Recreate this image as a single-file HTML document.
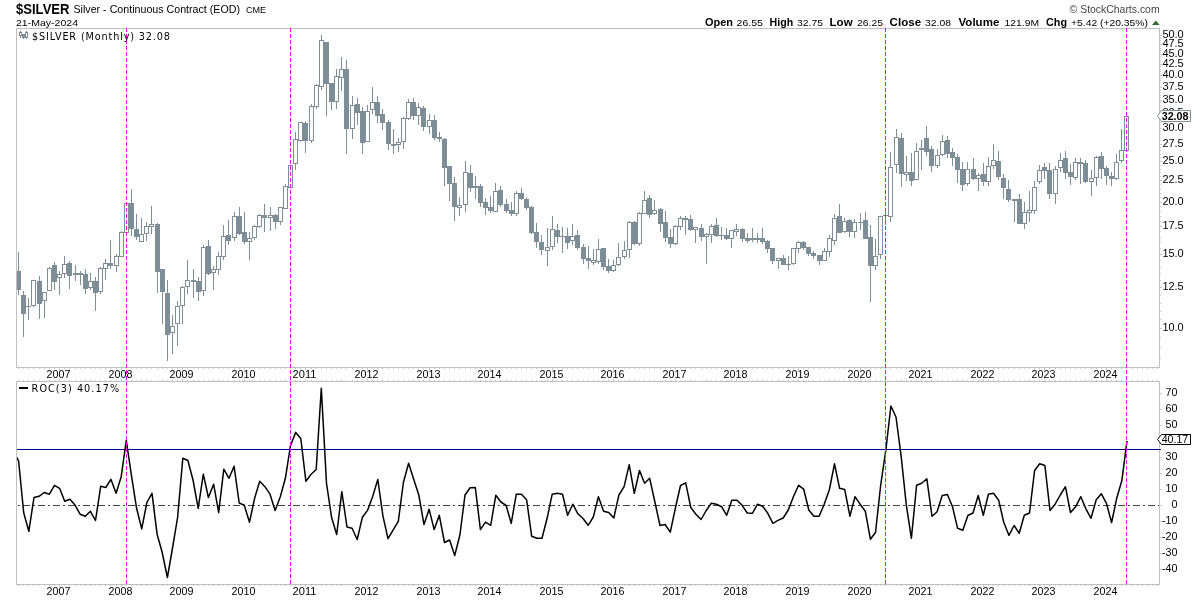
<!DOCTYPE html>
<html><head><meta charset="utf-8"><title>$SILVER Monthly</title>
<style>html,body{margin:0;padding:0;background:#fff}svg{display:block}</style>
</head><body>
<svg width="1200" height="600" viewBox="0 0 1200 600">
<rect width="1200" height="600" fill="#fff"/>
<g shape-rendering="crispEdges" fill="#c8c8c8">
<rect x="18" y="368" width="1" height="1"/>
<rect x="18" y="380" width="1" height="1"/>
<rect x="18" y="585" width="1" height="1"/>
<rect x="23" y="368" width="1" height="1"/>
<rect x="23" y="380" width="1" height="1"/>
<rect x="23" y="585" width="1" height="1"/>
<rect x="28" y="368" width="1" height="1"/>
<rect x="28" y="380" width="1" height="1"/>
<rect x="28" y="585" width="1" height="1"/>
<rect x="33" y="368" width="1" height="1"/>
<rect x="33" y="380" width="1" height="1"/>
<rect x="33" y="585" width="1" height="1"/>
<rect x="39" y="368" width="1" height="1"/>
<rect x="39" y="380" width="1" height="1"/>
<rect x="39" y="585" width="1" height="1"/>
<rect x="44" y="368" width="1" height="1"/>
<rect x="44" y="380" width="1" height="1"/>
<rect x="44" y="585" width="1" height="1"/>
<rect x="49" y="368" width="1" height="1"/>
<rect x="49" y="380" width="1" height="1"/>
<rect x="49" y="585" width="1" height="1"/>
<rect x="54" y="368" width="1" height="1"/>
<rect x="54" y="380" width="1" height="1"/>
<rect x="54" y="585" width="1" height="1"/>
<rect x="59" y="368" width="1" height="2"/>
<rect x="59" y="379" width="1" height="2"/>
<rect x="59" y="585" width="1" height="2"/>
<rect x="64" y="368" width="1" height="1"/>
<rect x="64" y="380" width="1" height="1"/>
<rect x="64" y="585" width="1" height="1"/>
<rect x="69" y="368" width="1" height="1"/>
<rect x="69" y="380" width="1" height="1"/>
<rect x="69" y="585" width="1" height="1"/>
<rect x="75" y="368" width="1" height="1"/>
<rect x="75" y="380" width="1" height="1"/>
<rect x="75" y="585" width="1" height="1"/>
<rect x="80" y="368" width="1" height="1"/>
<rect x="80" y="380" width="1" height="1"/>
<rect x="80" y="585" width="1" height="1"/>
<rect x="85" y="368" width="1" height="1"/>
<rect x="85" y="380" width="1" height="1"/>
<rect x="85" y="585" width="1" height="1"/>
<rect x="90" y="368" width="1" height="1"/>
<rect x="90" y="380" width="1" height="1"/>
<rect x="90" y="585" width="1" height="1"/>
<rect x="95" y="368" width="1" height="1"/>
<rect x="95" y="380" width="1" height="1"/>
<rect x="95" y="585" width="1" height="1"/>
<rect x="100" y="368" width="1" height="1"/>
<rect x="100" y="380" width="1" height="1"/>
<rect x="100" y="585" width="1" height="1"/>
<rect x="105" y="368" width="1" height="1"/>
<rect x="105" y="380" width="1" height="1"/>
<rect x="105" y="585" width="1" height="1"/>
<rect x="110" y="368" width="1" height="1"/>
<rect x="110" y="380" width="1" height="1"/>
<rect x="110" y="585" width="1" height="1"/>
<rect x="116" y="368" width="1" height="1"/>
<rect x="116" y="380" width="1" height="1"/>
<rect x="116" y="585" width="1" height="1"/>
<rect x="121" y="368" width="1" height="2"/>
<rect x="121" y="379" width="1" height="2"/>
<rect x="121" y="585" width="1" height="2"/>
<rect x="126" y="368" width="1" height="1"/>
<rect x="126" y="380" width="1" height="1"/>
<rect x="126" y="585" width="1" height="1"/>
<rect x="131" y="368" width="1" height="1"/>
<rect x="131" y="380" width="1" height="1"/>
<rect x="131" y="585" width="1" height="1"/>
<rect x="136" y="368" width="1" height="1"/>
<rect x="136" y="380" width="1" height="1"/>
<rect x="136" y="585" width="1" height="1"/>
<rect x="141" y="368" width="1" height="1"/>
<rect x="141" y="380" width="1" height="1"/>
<rect x="141" y="585" width="1" height="1"/>
<rect x="146" y="368" width="1" height="1"/>
<rect x="146" y="380" width="1" height="1"/>
<rect x="146" y="585" width="1" height="1"/>
<rect x="151" y="368" width="1" height="1"/>
<rect x="151" y="380" width="1" height="1"/>
<rect x="151" y="585" width="1" height="1"/>
<rect x="157" y="368" width="1" height="1"/>
<rect x="157" y="380" width="1" height="1"/>
<rect x="157" y="585" width="1" height="1"/>
<rect x="162" y="368" width="1" height="1"/>
<rect x="162" y="380" width="1" height="1"/>
<rect x="162" y="585" width="1" height="1"/>
<rect x="167" y="368" width="1" height="1"/>
<rect x="167" y="380" width="1" height="1"/>
<rect x="167" y="585" width="1" height="1"/>
<rect x="172" y="368" width="1" height="1"/>
<rect x="172" y="380" width="1" height="1"/>
<rect x="172" y="585" width="1" height="1"/>
<rect x="177" y="368" width="1" height="1"/>
<rect x="177" y="380" width="1" height="1"/>
<rect x="177" y="585" width="1" height="1"/>
<rect x="182" y="368" width="1" height="2"/>
<rect x="182" y="379" width="1" height="2"/>
<rect x="182" y="585" width="1" height="2"/>
<rect x="187" y="368" width="1" height="1"/>
<rect x="187" y="380" width="1" height="1"/>
<rect x="187" y="585" width="1" height="1"/>
<rect x="193" y="368" width="1" height="1"/>
<rect x="193" y="380" width="1" height="1"/>
<rect x="193" y="585" width="1" height="1"/>
<rect x="198" y="368" width="1" height="1"/>
<rect x="198" y="380" width="1" height="1"/>
<rect x="198" y="585" width="1" height="1"/>
<rect x="203" y="368" width="1" height="1"/>
<rect x="203" y="380" width="1" height="1"/>
<rect x="203" y="585" width="1" height="1"/>
<rect x="208" y="368" width="1" height="1"/>
<rect x="208" y="380" width="1" height="1"/>
<rect x="208" y="585" width="1" height="1"/>
<rect x="213" y="368" width="1" height="1"/>
<rect x="213" y="380" width="1" height="1"/>
<rect x="213" y="585" width="1" height="1"/>
<rect x="218" y="368" width="1" height="1"/>
<rect x="218" y="380" width="1" height="1"/>
<rect x="218" y="585" width="1" height="1"/>
<rect x="223" y="368" width="1" height="1"/>
<rect x="223" y="380" width="1" height="1"/>
<rect x="223" y="585" width="1" height="1"/>
<rect x="228" y="368" width="1" height="1"/>
<rect x="228" y="380" width="1" height="1"/>
<rect x="228" y="585" width="1" height="1"/>
<rect x="234" y="368" width="1" height="1"/>
<rect x="234" y="380" width="1" height="1"/>
<rect x="234" y="585" width="1" height="1"/>
<rect x="239" y="368" width="1" height="1"/>
<rect x="239" y="380" width="1" height="1"/>
<rect x="239" y="585" width="1" height="1"/>
<rect x="244" y="368" width="1" height="2"/>
<rect x="244" y="379" width="1" height="2"/>
<rect x="244" y="585" width="1" height="2"/>
<rect x="249" y="368" width="1" height="1"/>
<rect x="249" y="380" width="1" height="1"/>
<rect x="249" y="585" width="1" height="1"/>
<rect x="254" y="368" width="1" height="1"/>
<rect x="254" y="380" width="1" height="1"/>
<rect x="254" y="585" width="1" height="1"/>
<rect x="259" y="368" width="1" height="1"/>
<rect x="259" y="380" width="1" height="1"/>
<rect x="259" y="585" width="1" height="1"/>
<rect x="264" y="368" width="1" height="1"/>
<rect x="264" y="380" width="1" height="1"/>
<rect x="264" y="585" width="1" height="1"/>
<rect x="270" y="368" width="1" height="1"/>
<rect x="270" y="380" width="1" height="1"/>
<rect x="270" y="585" width="1" height="1"/>
<rect x="275" y="368" width="1" height="1"/>
<rect x="275" y="380" width="1" height="1"/>
<rect x="275" y="585" width="1" height="1"/>
<rect x="280" y="368" width="1" height="1"/>
<rect x="280" y="380" width="1" height="1"/>
<rect x="280" y="585" width="1" height="1"/>
<rect x="285" y="368" width="1" height="1"/>
<rect x="285" y="380" width="1" height="1"/>
<rect x="285" y="585" width="1" height="1"/>
<rect x="290" y="368" width="1" height="1"/>
<rect x="290" y="380" width="1" height="1"/>
<rect x="290" y="585" width="1" height="1"/>
<rect x="295" y="368" width="1" height="1"/>
<rect x="295" y="380" width="1" height="1"/>
<rect x="295" y="585" width="1" height="1"/>
<rect x="300" y="368" width="1" height="1"/>
<rect x="300" y="380" width="1" height="1"/>
<rect x="300" y="585" width="1" height="1"/>
<rect x="305" y="368" width="1" height="2"/>
<rect x="305" y="379" width="1" height="2"/>
<rect x="305" y="585" width="1" height="2"/>
<rect x="311" y="368" width="1" height="1"/>
<rect x="311" y="380" width="1" height="1"/>
<rect x="311" y="585" width="1" height="1"/>
<rect x="316" y="368" width="1" height="1"/>
<rect x="316" y="380" width="1" height="1"/>
<rect x="316" y="585" width="1" height="1"/>
<rect x="321" y="368" width="1" height="1"/>
<rect x="321" y="380" width="1" height="1"/>
<rect x="321" y="585" width="1" height="1"/>
<rect x="326" y="368" width="1" height="1"/>
<rect x="326" y="380" width="1" height="1"/>
<rect x="326" y="585" width="1" height="1"/>
<rect x="331" y="368" width="1" height="1"/>
<rect x="331" y="380" width="1" height="1"/>
<rect x="331" y="585" width="1" height="1"/>
<rect x="336" y="368" width="1" height="1"/>
<rect x="336" y="380" width="1" height="1"/>
<rect x="336" y="585" width="1" height="1"/>
<rect x="341" y="368" width="1" height="1"/>
<rect x="341" y="380" width="1" height="1"/>
<rect x="341" y="585" width="1" height="1"/>
<rect x="346" y="368" width="1" height="1"/>
<rect x="346" y="380" width="1" height="1"/>
<rect x="346" y="585" width="1" height="1"/>
<rect x="352" y="368" width="1" height="1"/>
<rect x="352" y="380" width="1" height="1"/>
<rect x="352" y="585" width="1" height="1"/>
<rect x="357" y="368" width="1" height="1"/>
<rect x="357" y="380" width="1" height="1"/>
<rect x="357" y="585" width="1" height="1"/>
<rect x="362" y="368" width="1" height="1"/>
<rect x="362" y="380" width="1" height="1"/>
<rect x="362" y="585" width="1" height="1"/>
<rect x="367" y="368" width="1" height="2"/>
<rect x="367" y="379" width="1" height="2"/>
<rect x="367" y="585" width="1" height="2"/>
<rect x="372" y="368" width="1" height="1"/>
<rect x="372" y="380" width="1" height="1"/>
<rect x="372" y="585" width="1" height="1"/>
<rect x="377" y="368" width="1" height="1"/>
<rect x="377" y="380" width="1" height="1"/>
<rect x="377" y="585" width="1" height="1"/>
<rect x="382" y="368" width="1" height="1"/>
<rect x="382" y="380" width="1" height="1"/>
<rect x="382" y="585" width="1" height="1"/>
<rect x="388" y="368" width="1" height="1"/>
<rect x="388" y="380" width="1" height="1"/>
<rect x="388" y="585" width="1" height="1"/>
<rect x="393" y="368" width="1" height="1"/>
<rect x="393" y="380" width="1" height="1"/>
<rect x="393" y="585" width="1" height="1"/>
<rect x="398" y="368" width="1" height="1"/>
<rect x="398" y="380" width="1" height="1"/>
<rect x="398" y="585" width="1" height="1"/>
<rect x="403" y="368" width="1" height="1"/>
<rect x="403" y="380" width="1" height="1"/>
<rect x="403" y="585" width="1" height="1"/>
<rect x="408" y="368" width="1" height="1"/>
<rect x="408" y="380" width="1" height="1"/>
<rect x="408" y="585" width="1" height="1"/>
<rect x="413" y="368" width="1" height="1"/>
<rect x="413" y="380" width="1" height="1"/>
<rect x="413" y="585" width="1" height="1"/>
<rect x="418" y="368" width="1" height="1"/>
<rect x="418" y="380" width="1" height="1"/>
<rect x="418" y="585" width="1" height="1"/>
<rect x="423" y="368" width="1" height="1"/>
<rect x="423" y="380" width="1" height="1"/>
<rect x="423" y="585" width="1" height="1"/>
<rect x="429" y="368" width="1" height="2"/>
<rect x="429" y="379" width="1" height="2"/>
<rect x="429" y="585" width="1" height="2"/>
<rect x="434" y="368" width="1" height="1"/>
<rect x="434" y="380" width="1" height="1"/>
<rect x="434" y="585" width="1" height="1"/>
<rect x="439" y="368" width="1" height="1"/>
<rect x="439" y="380" width="1" height="1"/>
<rect x="439" y="585" width="1" height="1"/>
<rect x="444" y="368" width="1" height="1"/>
<rect x="444" y="380" width="1" height="1"/>
<rect x="444" y="585" width="1" height="1"/>
<rect x="449" y="368" width="1" height="1"/>
<rect x="449" y="380" width="1" height="1"/>
<rect x="449" y="585" width="1" height="1"/>
<rect x="454" y="368" width="1" height="1"/>
<rect x="454" y="380" width="1" height="1"/>
<rect x="454" y="585" width="1" height="1"/>
<rect x="459" y="368" width="1" height="1"/>
<rect x="459" y="380" width="1" height="1"/>
<rect x="459" y="585" width="1" height="1"/>
<rect x="465" y="368" width="1" height="1"/>
<rect x="465" y="380" width="1" height="1"/>
<rect x="465" y="585" width="1" height="1"/>
<rect x="470" y="368" width="1" height="1"/>
<rect x="470" y="380" width="1" height="1"/>
<rect x="470" y="585" width="1" height="1"/>
<rect x="475" y="368" width="1" height="1"/>
<rect x="475" y="380" width="1" height="1"/>
<rect x="475" y="585" width="1" height="1"/>
<rect x="480" y="368" width="1" height="1"/>
<rect x="480" y="380" width="1" height="1"/>
<rect x="480" y="585" width="1" height="1"/>
<rect x="485" y="368" width="1" height="1"/>
<rect x="485" y="380" width="1" height="1"/>
<rect x="485" y="585" width="1" height="1"/>
<rect x="490" y="368" width="1" height="2"/>
<rect x="490" y="379" width="1" height="2"/>
<rect x="490" y="585" width="1" height="2"/>
<rect x="495" y="368" width="1" height="1"/>
<rect x="495" y="380" width="1" height="1"/>
<rect x="495" y="585" width="1" height="1"/>
<rect x="500" y="368" width="1" height="1"/>
<rect x="500" y="380" width="1" height="1"/>
<rect x="500" y="585" width="1" height="1"/>
<rect x="506" y="368" width="1" height="1"/>
<rect x="506" y="380" width="1" height="1"/>
<rect x="506" y="585" width="1" height="1"/>
<rect x="511" y="368" width="1" height="1"/>
<rect x="511" y="380" width="1" height="1"/>
<rect x="511" y="585" width="1" height="1"/>
<rect x="516" y="368" width="1" height="1"/>
<rect x="516" y="380" width="1" height="1"/>
<rect x="516" y="585" width="1" height="1"/>
<rect x="521" y="368" width="1" height="1"/>
<rect x="521" y="380" width="1" height="1"/>
<rect x="521" y="585" width="1" height="1"/>
<rect x="526" y="368" width="1" height="1"/>
<rect x="526" y="380" width="1" height="1"/>
<rect x="526" y="585" width="1" height="1"/>
<rect x="531" y="368" width="1" height="1"/>
<rect x="531" y="380" width="1" height="1"/>
<rect x="531" y="585" width="1" height="1"/>
<rect x="536" y="368" width="1" height="1"/>
<rect x="536" y="380" width="1" height="1"/>
<rect x="536" y="585" width="1" height="1"/>
<rect x="541" y="368" width="1" height="1"/>
<rect x="541" y="380" width="1" height="1"/>
<rect x="541" y="585" width="1" height="1"/>
<rect x="547" y="368" width="1" height="1"/>
<rect x="547" y="380" width="1" height="1"/>
<rect x="547" y="585" width="1" height="1"/>
<rect x="552" y="368" width="1" height="2"/>
<rect x="552" y="379" width="1" height="2"/>
<rect x="552" y="585" width="1" height="2"/>
<rect x="557" y="368" width="1" height="1"/>
<rect x="557" y="380" width="1" height="1"/>
<rect x="557" y="585" width="1" height="1"/>
<rect x="562" y="368" width="1" height="1"/>
<rect x="562" y="380" width="1" height="1"/>
<rect x="562" y="585" width="1" height="1"/>
<rect x="567" y="368" width="1" height="1"/>
<rect x="567" y="380" width="1" height="1"/>
<rect x="567" y="585" width="1" height="1"/>
<rect x="572" y="368" width="1" height="1"/>
<rect x="572" y="380" width="1" height="1"/>
<rect x="572" y="585" width="1" height="1"/>
<rect x="577" y="368" width="1" height="1"/>
<rect x="577" y="380" width="1" height="1"/>
<rect x="577" y="585" width="1" height="1"/>
<rect x="583" y="368" width="1" height="1"/>
<rect x="583" y="380" width="1" height="1"/>
<rect x="583" y="585" width="1" height="1"/>
<rect x="588" y="368" width="1" height="1"/>
<rect x="588" y="380" width="1" height="1"/>
<rect x="588" y="585" width="1" height="1"/>
<rect x="593" y="368" width="1" height="1"/>
<rect x="593" y="380" width="1" height="1"/>
<rect x="593" y="585" width="1" height="1"/>
<rect x="598" y="368" width="1" height="1"/>
<rect x="598" y="380" width="1" height="1"/>
<rect x="598" y="585" width="1" height="1"/>
<rect x="603" y="368" width="1" height="1"/>
<rect x="603" y="380" width="1" height="1"/>
<rect x="603" y="585" width="1" height="1"/>
<rect x="608" y="368" width="1" height="1"/>
<rect x="608" y="380" width="1" height="1"/>
<rect x="608" y="585" width="1" height="1"/>
<rect x="613" y="368" width="1" height="2"/>
<rect x="613" y="379" width="1" height="2"/>
<rect x="613" y="585" width="1" height="2"/>
<rect x="618" y="368" width="1" height="1"/>
<rect x="618" y="380" width="1" height="1"/>
<rect x="618" y="585" width="1" height="1"/>
<rect x="624" y="368" width="1" height="1"/>
<rect x="624" y="380" width="1" height="1"/>
<rect x="624" y="585" width="1" height="1"/>
<rect x="629" y="368" width="1" height="1"/>
<rect x="629" y="380" width="1" height="1"/>
<rect x="629" y="585" width="1" height="1"/>
<rect x="634" y="368" width="1" height="1"/>
<rect x="634" y="380" width="1" height="1"/>
<rect x="634" y="585" width="1" height="1"/>
<rect x="639" y="368" width="1" height="1"/>
<rect x="639" y="380" width="1" height="1"/>
<rect x="639" y="585" width="1" height="1"/>
<rect x="644" y="368" width="1" height="1"/>
<rect x="644" y="380" width="1" height="1"/>
<rect x="644" y="585" width="1" height="1"/>
<rect x="649" y="368" width="1" height="1"/>
<rect x="649" y="380" width="1" height="1"/>
<rect x="649" y="585" width="1" height="1"/>
<rect x="654" y="368" width="1" height="1"/>
<rect x="654" y="380" width="1" height="1"/>
<rect x="654" y="585" width="1" height="1"/>
<rect x="660" y="368" width="1" height="1"/>
<rect x="660" y="380" width="1" height="1"/>
<rect x="660" y="585" width="1" height="1"/>
<rect x="665" y="368" width="1" height="1"/>
<rect x="665" y="380" width="1" height="1"/>
<rect x="665" y="585" width="1" height="1"/>
<rect x="670" y="368" width="1" height="1"/>
<rect x="670" y="380" width="1" height="1"/>
<rect x="670" y="585" width="1" height="1"/>
<rect x="675" y="368" width="1" height="2"/>
<rect x="675" y="379" width="1" height="2"/>
<rect x="675" y="585" width="1" height="2"/>
<rect x="680" y="368" width="1" height="1"/>
<rect x="680" y="380" width="1" height="1"/>
<rect x="680" y="585" width="1" height="1"/>
<rect x="685" y="368" width="1" height="1"/>
<rect x="685" y="380" width="1" height="1"/>
<rect x="685" y="585" width="1" height="1"/>
<rect x="690" y="368" width="1" height="1"/>
<rect x="690" y="380" width="1" height="1"/>
<rect x="690" y="585" width="1" height="1"/>
<rect x="695" y="368" width="1" height="1"/>
<rect x="695" y="380" width="1" height="1"/>
<rect x="695" y="585" width="1" height="1"/>
<rect x="701" y="368" width="1" height="1"/>
<rect x="701" y="380" width="1" height="1"/>
<rect x="701" y="585" width="1" height="1"/>
<rect x="706" y="368" width="1" height="1"/>
<rect x="706" y="380" width="1" height="1"/>
<rect x="706" y="585" width="1" height="1"/>
<rect x="711" y="368" width="1" height="1"/>
<rect x="711" y="380" width="1" height="1"/>
<rect x="711" y="585" width="1" height="1"/>
<rect x="716" y="368" width="1" height="1"/>
<rect x="716" y="380" width="1" height="1"/>
<rect x="716" y="585" width="1" height="1"/>
<rect x="721" y="368" width="1" height="1"/>
<rect x="721" y="380" width="1" height="1"/>
<rect x="721" y="585" width="1" height="1"/>
<rect x="726" y="368" width="1" height="1"/>
<rect x="726" y="380" width="1" height="1"/>
<rect x="726" y="585" width="1" height="1"/>
<rect x="731" y="368" width="1" height="1"/>
<rect x="731" y="380" width="1" height="1"/>
<rect x="731" y="585" width="1" height="1"/>
<rect x="736" y="368" width="1" height="2"/>
<rect x="736" y="379" width="1" height="2"/>
<rect x="736" y="585" width="1" height="2"/>
<rect x="742" y="368" width="1" height="1"/>
<rect x="742" y="380" width="1" height="1"/>
<rect x="742" y="585" width="1" height="1"/>
<rect x="747" y="368" width="1" height="1"/>
<rect x="747" y="380" width="1" height="1"/>
<rect x="747" y="585" width="1" height="1"/>
<rect x="752" y="368" width="1" height="1"/>
<rect x="752" y="380" width="1" height="1"/>
<rect x="752" y="585" width="1" height="1"/>
<rect x="757" y="368" width="1" height="1"/>
<rect x="757" y="380" width="1" height="1"/>
<rect x="757" y="585" width="1" height="1"/>
<rect x="762" y="368" width="1" height="1"/>
<rect x="762" y="380" width="1" height="1"/>
<rect x="762" y="585" width="1" height="1"/>
<rect x="767" y="368" width="1" height="1"/>
<rect x="767" y="380" width="1" height="1"/>
<rect x="767" y="585" width="1" height="1"/>
<rect x="772" y="368" width="1" height="1"/>
<rect x="772" y="380" width="1" height="1"/>
<rect x="772" y="585" width="1" height="1"/>
<rect x="778" y="368" width="1" height="1"/>
<rect x="778" y="380" width="1" height="1"/>
<rect x="778" y="585" width="1" height="1"/>
<rect x="783" y="368" width="1" height="1"/>
<rect x="783" y="380" width="1" height="1"/>
<rect x="783" y="585" width="1" height="1"/>
<rect x="788" y="368" width="1" height="1"/>
<rect x="788" y="380" width="1" height="1"/>
<rect x="788" y="585" width="1" height="1"/>
<rect x="793" y="368" width="1" height="1"/>
<rect x="793" y="380" width="1" height="1"/>
<rect x="793" y="585" width="1" height="1"/>
<rect x="798" y="368" width="1" height="2"/>
<rect x="798" y="379" width="1" height="2"/>
<rect x="798" y="585" width="1" height="2"/>
<rect x="803" y="368" width="1" height="1"/>
<rect x="803" y="380" width="1" height="1"/>
<rect x="803" y="585" width="1" height="1"/>
<rect x="808" y="368" width="1" height="1"/>
<rect x="808" y="380" width="1" height="1"/>
<rect x="808" y="585" width="1" height="1"/>
<rect x="813" y="368" width="1" height="1"/>
<rect x="813" y="380" width="1" height="1"/>
<rect x="813" y="585" width="1" height="1"/>
<rect x="819" y="368" width="1" height="1"/>
<rect x="819" y="380" width="1" height="1"/>
<rect x="819" y="585" width="1" height="1"/>
<rect x="824" y="368" width="1" height="1"/>
<rect x="824" y="380" width="1" height="1"/>
<rect x="824" y="585" width="1" height="1"/>
<rect x="829" y="368" width="1" height="1"/>
<rect x="829" y="380" width="1" height="1"/>
<rect x="829" y="585" width="1" height="1"/>
<rect x="834" y="368" width="1" height="1"/>
<rect x="834" y="380" width="1" height="1"/>
<rect x="834" y="585" width="1" height="1"/>
<rect x="839" y="368" width="1" height="1"/>
<rect x="839" y="380" width="1" height="1"/>
<rect x="839" y="585" width="1" height="1"/>
<rect x="844" y="368" width="1" height="1"/>
<rect x="844" y="380" width="1" height="1"/>
<rect x="844" y="585" width="1" height="1"/>
<rect x="849" y="368" width="1" height="1"/>
<rect x="849" y="380" width="1" height="1"/>
<rect x="849" y="585" width="1" height="1"/>
<rect x="854" y="368" width="1" height="1"/>
<rect x="854" y="380" width="1" height="1"/>
<rect x="854" y="585" width="1" height="1"/>
<rect x="860" y="368" width="1" height="2"/>
<rect x="860" y="379" width="1" height="2"/>
<rect x="860" y="585" width="1" height="2"/>
<rect x="865" y="368" width="1" height="1"/>
<rect x="865" y="380" width="1" height="1"/>
<rect x="865" y="585" width="1" height="1"/>
<rect x="870" y="368" width="1" height="1"/>
<rect x="870" y="380" width="1" height="1"/>
<rect x="870" y="585" width="1" height="1"/>
<rect x="875" y="368" width="1" height="1"/>
<rect x="875" y="380" width="1" height="1"/>
<rect x="875" y="585" width="1" height="1"/>
<rect x="880" y="368" width="1" height="1"/>
<rect x="880" y="380" width="1" height="1"/>
<rect x="880" y="585" width="1" height="1"/>
<rect x="885" y="368" width="1" height="1"/>
<rect x="885" y="380" width="1" height="1"/>
<rect x="885" y="585" width="1" height="1"/>
<rect x="890" y="368" width="1" height="1"/>
<rect x="890" y="380" width="1" height="1"/>
<rect x="890" y="585" width="1" height="1"/>
<rect x="896" y="368" width="1" height="1"/>
<rect x="896" y="380" width="1" height="1"/>
<rect x="896" y="585" width="1" height="1"/>
<rect x="901" y="368" width="1" height="1"/>
<rect x="901" y="380" width="1" height="1"/>
<rect x="901" y="585" width="1" height="1"/>
<rect x="906" y="368" width="1" height="1"/>
<rect x="906" y="380" width="1" height="1"/>
<rect x="906" y="585" width="1" height="1"/>
<rect x="911" y="368" width="1" height="1"/>
<rect x="911" y="380" width="1" height="1"/>
<rect x="911" y="585" width="1" height="1"/>
<rect x="916" y="368" width="1" height="1"/>
<rect x="916" y="380" width="1" height="1"/>
<rect x="916" y="585" width="1" height="1"/>
<rect x="921" y="368" width="1" height="2"/>
<rect x="921" y="379" width="1" height="2"/>
<rect x="921" y="585" width="1" height="2"/>
<rect x="926" y="368" width="1" height="1"/>
<rect x="926" y="380" width="1" height="1"/>
<rect x="926" y="585" width="1" height="1"/>
<rect x="931" y="368" width="1" height="1"/>
<rect x="931" y="380" width="1" height="1"/>
<rect x="931" y="585" width="1" height="1"/>
<rect x="937" y="368" width="1" height="1"/>
<rect x="937" y="380" width="1" height="1"/>
<rect x="937" y="585" width="1" height="1"/>
<rect x="942" y="368" width="1" height="1"/>
<rect x="942" y="380" width="1" height="1"/>
<rect x="942" y="585" width="1" height="1"/>
<rect x="947" y="368" width="1" height="1"/>
<rect x="947" y="380" width="1" height="1"/>
<rect x="947" y="585" width="1" height="1"/>
<rect x="952" y="368" width="1" height="1"/>
<rect x="952" y="380" width="1" height="1"/>
<rect x="952" y="585" width="1" height="1"/>
<rect x="957" y="368" width="1" height="1"/>
<rect x="957" y="380" width="1" height="1"/>
<rect x="957" y="585" width="1" height="1"/>
<rect x="962" y="368" width="1" height="1"/>
<rect x="962" y="380" width="1" height="1"/>
<rect x="962" y="585" width="1" height="1"/>
<rect x="967" y="368" width="1" height="1"/>
<rect x="967" y="380" width="1" height="1"/>
<rect x="967" y="585" width="1" height="1"/>
<rect x="973" y="368" width="1" height="1"/>
<rect x="973" y="380" width="1" height="1"/>
<rect x="973" y="585" width="1" height="1"/>
<rect x="978" y="368" width="1" height="1"/>
<rect x="978" y="380" width="1" height="1"/>
<rect x="978" y="585" width="1" height="1"/>
<rect x="983" y="368" width="1" height="2"/>
<rect x="983" y="379" width="1" height="2"/>
<rect x="983" y="585" width="1" height="2"/>
<rect x="988" y="368" width="1" height="1"/>
<rect x="988" y="380" width="1" height="1"/>
<rect x="988" y="585" width="1" height="1"/>
<rect x="993" y="368" width="1" height="1"/>
<rect x="993" y="380" width="1" height="1"/>
<rect x="993" y="585" width="1" height="1"/>
<rect x="998" y="368" width="1" height="1"/>
<rect x="998" y="380" width="1" height="1"/>
<rect x="998" y="585" width="1" height="1"/>
<rect x="1003" y="368" width="1" height="1"/>
<rect x="1003" y="380" width="1" height="1"/>
<rect x="1003" y="585" width="1" height="1"/>
<rect x="1008" y="368" width="1" height="1"/>
<rect x="1008" y="380" width="1" height="1"/>
<rect x="1008" y="585" width="1" height="1"/>
<rect x="1014" y="368" width="1" height="1"/>
<rect x="1014" y="380" width="1" height="1"/>
<rect x="1014" y="585" width="1" height="1"/>
<rect x="1019" y="368" width="1" height="1"/>
<rect x="1019" y="380" width="1" height="1"/>
<rect x="1019" y="585" width="1" height="1"/>
<rect x="1024" y="368" width="1" height="1"/>
<rect x="1024" y="380" width="1" height="1"/>
<rect x="1024" y="585" width="1" height="1"/>
<rect x="1029" y="368" width="1" height="1"/>
<rect x="1029" y="380" width="1" height="1"/>
<rect x="1029" y="585" width="1" height="1"/>
<rect x="1034" y="368" width="1" height="1"/>
<rect x="1034" y="380" width="1" height="1"/>
<rect x="1034" y="585" width="1" height="1"/>
<rect x="1039" y="368" width="1" height="1"/>
<rect x="1039" y="380" width="1" height="1"/>
<rect x="1039" y="585" width="1" height="1"/>
<rect x="1044" y="368" width="1" height="2"/>
<rect x="1044" y="379" width="1" height="2"/>
<rect x="1044" y="585" width="1" height="2"/>
<rect x="1049" y="368" width="1" height="1"/>
<rect x="1049" y="380" width="1" height="1"/>
<rect x="1049" y="585" width="1" height="1"/>
<rect x="1055" y="368" width="1" height="1"/>
<rect x="1055" y="380" width="1" height="1"/>
<rect x="1055" y="585" width="1" height="1"/>
<rect x="1060" y="368" width="1" height="1"/>
<rect x="1060" y="380" width="1" height="1"/>
<rect x="1060" y="585" width="1" height="1"/>
<rect x="1065" y="368" width="1" height="1"/>
<rect x="1065" y="380" width="1" height="1"/>
<rect x="1065" y="585" width="1" height="1"/>
<rect x="1070" y="368" width="1" height="1"/>
<rect x="1070" y="380" width="1" height="1"/>
<rect x="1070" y="585" width="1" height="1"/>
<rect x="1075" y="368" width="1" height="1"/>
<rect x="1075" y="380" width="1" height="1"/>
<rect x="1075" y="585" width="1" height="1"/>
<rect x="1080" y="368" width="1" height="1"/>
<rect x="1080" y="380" width="1" height="1"/>
<rect x="1080" y="585" width="1" height="1"/>
<rect x="1085" y="368" width="1" height="1"/>
<rect x="1085" y="380" width="1" height="1"/>
<rect x="1085" y="585" width="1" height="1"/>
<rect x="1091" y="368" width="1" height="1"/>
<rect x="1091" y="380" width="1" height="1"/>
<rect x="1091" y="585" width="1" height="1"/>
<rect x="1096" y="368" width="1" height="1"/>
<rect x="1096" y="380" width="1" height="1"/>
<rect x="1096" y="585" width="1" height="1"/>
<rect x="1101" y="368" width="1" height="1"/>
<rect x="1101" y="380" width="1" height="1"/>
<rect x="1101" y="585" width="1" height="1"/>
<rect x="1106" y="368" width="1" height="2"/>
<rect x="1106" y="379" width="1" height="2"/>
<rect x="1106" y="585" width="1" height="2"/>
<rect x="1111" y="368" width="1" height="1"/>
<rect x="1111" y="380" width="1" height="1"/>
<rect x="1111" y="585" width="1" height="1"/>
<rect x="1116" y="368" width="1" height="1"/>
<rect x="1116" y="380" width="1" height="1"/>
<rect x="1116" y="585" width="1" height="1"/>
<rect x="1121" y="368" width="1" height="1"/>
<rect x="1121" y="380" width="1" height="1"/>
<rect x="1121" y="585" width="1" height="1"/>
<rect x="1126" y="368" width="1" height="1"/>
<rect x="1126" y="380" width="1" height="1"/>
<rect x="1126" y="585" width="1" height="1"/>
<rect x="1132" y="368" width="1" height="1"/>
<rect x="1132" y="380" width="1" height="1"/>
<rect x="1132" y="585" width="1" height="1"/>
<rect x="1137" y="368" width="1" height="1"/>
<rect x="1137" y="380" width="1" height="1"/>
<rect x="1137" y="585" width="1" height="1"/>
<rect x="1142" y="368" width="1" height="1"/>
<rect x="1142" y="380" width="1" height="1"/>
<rect x="1142" y="585" width="1" height="1"/>
<rect x="1147" y="368" width="1" height="1"/>
<rect x="1147" y="380" width="1" height="1"/>
<rect x="1147" y="585" width="1" height="1"/>
<rect x="1152" y="368" width="1" height="1"/>
<rect x="1152" y="380" width="1" height="1"/>
<rect x="1152" y="585" width="1" height="1"/>
<rect x="1157" y="368" width="1" height="1"/>
<rect x="1157" y="380" width="1" height="1"/>
<rect x="1157" y="585" width="1" height="1"/>
</g>
<g shape-rendering="crispEdges" fill="#c8c8c8">
<rect x="1160" y="358" width="1" height="1"/>
<rect x="1160" y="347" width="1" height="1"/>
<rect x="1160" y="337" width="1" height="1"/>
<rect x="1160" y="328" width="2" height="1"/>
<rect x="1160" y="319" width="1" height="1"/>
<rect x="1160" y="311" width="1" height="1"/>
<rect x="1160" y="303" width="1" height="1"/>
<rect x="1160" y="295" width="1" height="1"/>
<rect x="1160" y="287" width="2" height="1"/>
<rect x="1160" y="280" width="1" height="1"/>
<rect x="1160" y="273" width="1" height="1"/>
<rect x="1160" y="267" width="1" height="1"/>
<rect x="1160" y="260" width="1" height="1"/>
<rect x="1160" y="254" width="2" height="1"/>
<rect x="1160" y="248" width="1" height="1"/>
<rect x="1160" y="242" width="1" height="1"/>
<rect x="1160" y="237" width="1" height="1"/>
<rect x="1160" y="231" width="1" height="1"/>
<rect x="1160" y="226" width="2" height="1"/>
<rect x="1160" y="221" width="1" height="1"/>
<rect x="1160" y="216" width="1" height="1"/>
<rect x="1160" y="211" width="1" height="1"/>
<rect x="1160" y="206" width="1" height="1"/>
<rect x="1160" y="202" width="2" height="1"/>
<rect x="1160" y="197" width="1" height="1"/>
<rect x="1160" y="193" width="1" height="1"/>
<rect x="1160" y="189" width="1" height="1"/>
<rect x="1160" y="184" width="1" height="1"/>
<rect x="1160" y="180" width="2" height="1"/>
<rect x="1160" y="176" width="1" height="1"/>
<rect x="1160" y="172" width="1" height="1"/>
<rect x="1160" y="169" width="1" height="1"/>
<rect x="1160" y="165" width="1" height="1"/>
<rect x="1160" y="161" width="2" height="1"/>
<rect x="1160" y="157" width="1" height="1"/>
<rect x="1160" y="154" width="1" height="1"/>
<rect x="1160" y="150" width="1" height="1"/>
<rect x="1160" y="147" width="1" height="1"/>
<rect x="1160" y="144" width="2" height="1"/>
<rect x="1160" y="140" width="1" height="1"/>
<rect x="1160" y="137" width="1" height="1"/>
<rect x="1160" y="134" width="1" height="1"/>
<rect x="1160" y="131" width="1" height="1"/>
<rect x="1160" y="128" width="2" height="1"/>
<rect x="1160" y="125" width="1" height="1"/>
<rect x="1160" y="122" width="1" height="1"/>
<rect x="1160" y="119" width="1" height="1"/>
<rect x="1160" y="116" width="1" height="1"/>
<rect x="1160" y="113" width="2" height="1"/>
<rect x="1160" y="110" width="1" height="1"/>
<rect x="1160" y="108" width="1" height="1"/>
<rect x="1160" y="105" width="1" height="1"/>
<rect x="1160" y="102" width="1" height="1"/>
<rect x="1160" y="100" width="2" height="1"/>
<rect x="1160" y="97" width="1" height="1"/>
<rect x="1160" y="95" width="1" height="1"/>
<rect x="1160" y="92" width="1" height="1"/>
<rect x="1160" y="90" width="1" height="1"/>
<rect x="1160" y="87" width="2" height="1"/>
<rect x="1160" y="85" width="1" height="1"/>
<rect x="1160" y="82" width="1" height="1"/>
<rect x="1160" y="80" width="1" height="1"/>
<rect x="1160" y="78" width="1" height="1"/>
<rect x="1160" y="75" width="2" height="1"/>
<rect x="1160" y="73" width="1" height="1"/>
<rect x="1160" y="71" width="1" height="1"/>
<rect x="1160" y="69" width="1" height="1"/>
<rect x="1160" y="66" width="1" height="1"/>
<rect x="1160" y="64" width="2" height="1"/>
<rect x="1160" y="62" width="1" height="1"/>
<rect x="1160" y="60" width="1" height="1"/>
<rect x="1160" y="58" width="1" height="1"/>
<rect x="1160" y="56" width="1" height="1"/>
<rect x="1160" y="54" width="2" height="1"/>
<rect x="1160" y="52" width="1" height="1"/>
<rect x="1160" y="50" width="1" height="1"/>
<rect x="1160" y="48" width="1" height="1"/>
<rect x="1160" y="46" width="1" height="1"/>
<rect x="1160" y="44" width="2" height="1"/>
<rect x="1160" y="42" width="1" height="1"/>
<rect x="1160" y="40" width="1" height="1"/>
<rect x="1160" y="38" width="1" height="1"/>
<rect x="1160" y="37" width="1" height="1"/>
<rect x="1160" y="35" width="2" height="1"/>
<rect x="1160" y="569" width="2" height="1"/>
<rect x="1160" y="553" width="2" height="1"/>
<rect x="1160" y="537" width="2" height="1"/>
<rect x="1160" y="521" width="2" height="1"/>
<rect x="1160" y="505" width="2" height="1"/>
<rect x="1160" y="489" width="2" height="1"/>
<rect x="1160" y="473" width="2" height="1"/>
<rect x="1160" y="457" width="2" height="1"/>
<rect x="1160" y="441" width="2" height="1"/>
<rect x="1160" y="425" width="2" height="1"/>
<rect x="1160" y="409" width="2" height="1"/>
<rect x="1160" y="393" width="2" height="1"/>
</g>
<g shape-rendering="crispEdges">
<rect x="18" y="252" width="1" height="43" fill="#7d8e97"/>
<rect x="16" y="271" width="5" height="19" fill="#7d8e97"/>
<rect x="23" y="291" width="1" height="46" fill="#7d8e97"/>
<rect x="21" y="295" width="5" height="19" fill="#7d8e97"/>
<rect x="28" y="298" width="1" height="22" fill="#7d8e97"/>
<rect x="26" y="306" width="5" height="1" fill="#7d8e97"/>
<rect x="33" y="280" width="1" height="27" fill="#7d8e97"/>
<rect x="31" y="280" width="5" height="26" fill="#7d8e97"/>
<rect x="32" y="281" width="3" height="24" fill="#fff"/>
<rect x="39" y="276" width="1" height="43" fill="#7d8e97"/>
<rect x="37" y="281" width="5" height="23" fill="#7d8e97"/>
<rect x="44" y="292" width="1" height="26" fill="#7d8e97"/>
<rect x="42" y="292" width="5" height="9" fill="#7d8e97"/>
<rect x="43" y="293" width="3" height="7" fill="#fff"/>
<rect x="49" y="267" width="1" height="24" fill="#7d8e97"/>
<rect x="47" y="268" width="5" height="23" fill="#7d8e97"/>
<rect x="48" y="269" width="3" height="21" fill="#fff"/>
<rect x="54" y="262" width="1" height="28" fill="#7d8e97"/>
<rect x="52" y="265" width="5" height="17" fill="#7d8e97"/>
<rect x="59" y="271" width="1" height="24" fill="#7d8e97"/>
<rect x="57" y="274" width="5" height="4" fill="#7d8e97"/>
<rect x="58" y="275" width="3" height="2" fill="#fff"/>
<rect x="64" y="256" width="1" height="22" fill="#7d8e97"/>
<rect x="62" y="264" width="5" height="10" fill="#7d8e97"/>
<rect x="63" y="265" width="3" height="8" fill="#fff"/>
<rect x="69" y="261" width="1" height="28" fill="#7d8e97"/>
<rect x="67" y="263" width="5" height="13" fill="#7d8e97"/>
<rect x="75" y="265" width="1" height="16" fill="#7d8e97"/>
<rect x="73" y="273" width="5" height="2" fill="#7d8e97"/>
<rect x="80" y="271" width="1" height="14" fill="#7d8e97"/>
<rect x="78" y="273" width="5" height="2" fill="#7d8e97"/>
<rect x="85" y="269" width="1" height="25" fill="#7d8e97"/>
<rect x="83" y="274" width="5" height="15" fill="#7d8e97"/>
<rect x="90" y="273" width="1" height="17" fill="#7d8e97"/>
<rect x="88" y="281" width="5" height="7" fill="#7d8e97"/>
<rect x="89" y="282" width="3" height="5" fill="#fff"/>
<rect x="95" y="277" width="1" height="34" fill="#7d8e97"/>
<rect x="93" y="281" width="5" height="12" fill="#7d8e97"/>
<rect x="100" y="267" width="1" height="27" fill="#7d8e97"/>
<rect x="98" y="268" width="5" height="24" fill="#7d8e97"/>
<rect x="99" y="269" width="3" height="22" fill="#fff"/>
<rect x="105" y="259" width="1" height="21" fill="#7d8e97"/>
<rect x="103" y="263" width="5" height="6" fill="#7d8e97"/>
<rect x="104" y="264" width="3" height="4" fill="#fff"/>
<rect x="110" y="240" width="1" height="29" fill="#7d8e97"/>
<rect x="108" y="263" width="5" height="3" fill="#7d8e97"/>
<rect x="116" y="254" width="1" height="18" fill="#7d8e97"/>
<rect x="114" y="256" width="5" height="10" fill="#7d8e97"/>
<rect x="115" y="257" width="3" height="8" fill="#fff"/>
<rect x="121" y="231" width="1" height="25" fill="#7d8e97"/>
<rect x="119" y="232" width="5" height="25" fill="#7d8e97"/>
<rect x="120" y="233" width="3" height="23" fill="#fff"/>
<rect x="126" y="203" width="1" height="29" fill="#7d8e97"/>
<rect x="124" y="203" width="5" height="30" fill="#7d8e97"/>
<rect x="125" y="204" width="3" height="28" fill="#fff"/>
<rect x="131" y="189" width="1" height="47" fill="#7d8e97"/>
<rect x="129" y="203" width="5" height="26" fill="#7d8e97"/>
<rect x="136" y="214" width="1" height="26" fill="#7d8e97"/>
<rect x="134" y="229" width="5" height="8" fill="#7d8e97"/>
<rect x="141" y="218" width="1" height="24" fill="#7d8e97"/>
<rect x="139" y="234" width="5" height="8" fill="#7d8e97"/>
<rect x="140" y="235" width="3" height="6" fill="#fff"/>
<rect x="146" y="222" width="1" height="19" fill="#7d8e97"/>
<rect x="144" y="226" width="5" height="8" fill="#7d8e97"/>
<rect x="145" y="227" width="3" height="6" fill="#fff"/>
<rect x="151" y="206" width="1" height="28" fill="#7d8e97"/>
<rect x="149" y="224" width="5" height="3" fill="#7d8e97"/>
<rect x="150" y="225" width="3" height="1" fill="#fff"/>
<rect x="157" y="223" width="1" height="70" fill="#7d8e97"/>
<rect x="155" y="224" width="5" height="48" fill="#7d8e97"/>
<rect x="162" y="269" width="1" height="55" fill="#7d8e97"/>
<rect x="160" y="269" width="5" height="23" fill="#7d8e97"/>
<rect x="167" y="280" width="1" height="81" fill="#7d8e97"/>
<rect x="165" y="293" width="5" height="42" fill="#7d8e97"/>
<rect x="172" y="315" width="1" height="39" fill="#7d8e97"/>
<rect x="170" y="326" width="5" height="7" fill="#7d8e97"/>
<rect x="171" y="327" width="3" height="5" fill="#fff"/>
<rect x="177" y="301" width="1" height="45" fill="#7d8e97"/>
<rect x="175" y="306" width="5" height="18" fill="#7d8e97"/>
<rect x="176" y="307" width="3" height="16" fill="#fff"/>
<rect x="182" y="286" width="1" height="38" fill="#7d8e97"/>
<rect x="180" y="287" width="5" height="19" fill="#7d8e97"/>
<rect x="181" y="288" width="3" height="17" fill="#fff"/>
<rect x="187" y="260" width="1" height="34" fill="#7d8e97"/>
<rect x="185" y="280" width="5" height="7" fill="#7d8e97"/>
<rect x="186" y="281" width="3" height="5" fill="#fff"/>
<rect x="193" y="269" width="1" height="29" fill="#7d8e97"/>
<rect x="191" y="280" width="5" height="2" fill="#7d8e97"/>
<rect x="198" y="277" width="1" height="24" fill="#7d8e97"/>
<rect x="196" y="281" width="5" height="11" fill="#7d8e97"/>
<rect x="203" y="245" width="1" height="51" fill="#7d8e97"/>
<rect x="201" y="247" width="5" height="44" fill="#7d8e97"/>
<rect x="202" y="248" width="3" height="42" fill="#fff"/>
<rect x="208" y="240" width="1" height="35" fill="#7d8e97"/>
<rect x="206" y="246" width="5" height="28" fill="#7d8e97"/>
<rect x="213" y="266" width="1" height="24" fill="#7d8e97"/>
<rect x="211" y="269" width="5" height="4" fill="#7d8e97"/>
<rect x="212" y="270" width="3" height="2" fill="#fff"/>
<rect x="218" y="252" width="1" height="23" fill="#7d8e97"/>
<rect x="216" y="256" width="5" height="14" fill="#7d8e97"/>
<rect x="217" y="257" width="3" height="12" fill="#fff"/>
<rect x="223" y="225" width="1" height="35" fill="#7d8e97"/>
<rect x="221" y="236" width="5" height="21" fill="#7d8e97"/>
<rect x="222" y="237" width="3" height="19" fill="#fff"/>
<rect x="228" y="220" width="1" height="25" fill="#7d8e97"/>
<rect x="226" y="235" width="5" height="6" fill="#7d8e97"/>
<rect x="234" y="212" width="1" height="29" fill="#7d8e97"/>
<rect x="232" y="216" width="5" height="22" fill="#7d8e97"/>
<rect x="233" y="217" width="3" height="20" fill="#fff"/>
<rect x="239" y="207" width="1" height="28" fill="#7d8e97"/>
<rect x="237" y="216" width="5" height="18" fill="#7d8e97"/>
<rect x="244" y="212" width="1" height="32" fill="#7d8e97"/>
<rect x="242" y="232" width="5" height="10" fill="#7d8e97"/>
<rect x="249" y="232" width="1" height="28" fill="#7d8e97"/>
<rect x="247" y="238" width="5" height="4" fill="#7d8e97"/>
<rect x="248" y="239" width="3" height="2" fill="#fff"/>
<rect x="254" y="225" width="1" height="15" fill="#7d8e97"/>
<rect x="252" y="226" width="5" height="12" fill="#7d8e97"/>
<rect x="253" y="227" width="3" height="10" fill="#fff"/>
<rect x="259" y="214" width="1" height="14" fill="#7d8e97"/>
<rect x="257" y="215" width="5" height="12" fill="#7d8e97"/>
<rect x="258" y="216" width="3" height="10" fill="#fff"/>
<rect x="264" y="204" width="1" height="28" fill="#7d8e97"/>
<rect x="262" y="215" width="5" height="3" fill="#7d8e97"/>
<rect x="270" y="207" width="1" height="24" fill="#7d8e97"/>
<rect x="268" y="215" width="5" height="3" fill="#7d8e97"/>
<rect x="269" y="216" width="3" height="1" fill="#fff"/>
<rect x="275" y="214" width="1" height="15" fill="#7d8e97"/>
<rect x="273" y="215" width="5" height="7" fill="#7d8e97"/>
<rect x="280" y="207" width="1" height="18" fill="#7d8e97"/>
<rect x="278" y="207" width="5" height="15" fill="#7d8e97"/>
<rect x="279" y="208" width="3" height="13" fill="#fff"/>
<rect x="285" y="184" width="1" height="25" fill="#7d8e97"/>
<rect x="283" y="186" width="5" height="23" fill="#7d8e97"/>
<rect x="284" y="187" width="3" height="21" fill="#fff"/>
<rect x="290" y="165" width="1" height="23" fill="#7d8e97"/>
<rect x="288" y="165" width="5" height="23" fill="#7d8e97"/>
<rect x="289" y="166" width="3" height="21" fill="#fff"/>
<rect x="295" y="132" width="1" height="38" fill="#7d8e97"/>
<rect x="293" y="139" width="5" height="25" fill="#7d8e97"/>
<rect x="294" y="140" width="3" height="23" fill="#fff"/>
<rect x="300" y="122" width="1" height="20" fill="#7d8e97"/>
<rect x="298" y="122" width="5" height="19" fill="#7d8e97"/>
<rect x="299" y="123" width="3" height="17" fill="#fff"/>
<rect x="305" y="121" width="1" height="32" fill="#7d8e97"/>
<rect x="303" y="123" width="5" height="18" fill="#7d8e97"/>
<rect x="311" y="104" width="1" height="39" fill="#7d8e97"/>
<rect x="309" y="106" width="5" height="35" fill="#7d8e97"/>
<rect x="310" y="107" width="3" height="33" fill="#fff"/>
<rect x="316" y="84" width="1" height="25" fill="#7d8e97"/>
<rect x="314" y="85" width="5" height="22" fill="#7d8e97"/>
<rect x="315" y="86" width="3" height="20" fill="#fff"/>
<rect x="321" y="35" width="1" height="55" fill="#7d8e97"/>
<rect x="319" y="40" width="5" height="47" fill="#7d8e97"/>
<rect x="320" y="41" width="3" height="45" fill="#fff"/>
<rect x="326" y="42" width="1" height="74" fill="#7d8e97"/>
<rect x="324" y="42" width="5" height="42" fill="#7d8e97"/>
<rect x="331" y="83" width="1" height="27" fill="#7d8e97"/>
<rect x="329" y="83" width="5" height="19" fill="#7d8e97"/>
<rect x="336" y="69" width="1" height="40" fill="#7d8e97"/>
<rect x="334" y="76" width="5" height="26" fill="#7d8e97"/>
<rect x="335" y="77" width="3" height="24" fill="#fff"/>
<rect x="341" y="57" width="1" height="34" fill="#7d8e97"/>
<rect x="339" y="69" width="5" height="9" fill="#7d8e97"/>
<rect x="340" y="70" width="3" height="7" fill="#fff"/>
<rect x="346" y="60" width="1" height="94" fill="#7d8e97"/>
<rect x="344" y="69" width="5" height="60" fill="#7d8e97"/>
<rect x="352" y="96" width="1" height="43" fill="#7d8e97"/>
<rect x="350" y="105" width="5" height="24" fill="#7d8e97"/>
<rect x="351" y="106" width="3" height="22" fill="#fff"/>
<rect x="357" y="98" width="1" height="27" fill="#7d8e97"/>
<rect x="355" y="104" width="5" height="9" fill="#7d8e97"/>
<rect x="362" y="107" width="1" height="47" fill="#7d8e97"/>
<rect x="360" y="111" width="5" height="32" fill="#7d8e97"/>
<rect x="367" y="105" width="1" height="37" fill="#7d8e97"/>
<rect x="365" y="111" width="5" height="31" fill="#7d8e97"/>
<rect x="366" y="112" width="3" height="29" fill="#fff"/>
<rect x="372" y="87" width="1" height="27" fill="#7d8e97"/>
<rect x="370" y="102" width="5" height="8" fill="#7d8e97"/>
<rect x="371" y="103" width="3" height="6" fill="#fff"/>
<rect x="377" y="96" width="1" height="27" fill="#7d8e97"/>
<rect x="375" y="102" width="5" height="14" fill="#7d8e97"/>
<rect x="382" y="109" width="1" height="21" fill="#7d8e97"/>
<rect x="380" y="114" width="5" height="9" fill="#7d8e97"/>
<rect x="388" y="120" width="1" height="30" fill="#7d8e97"/>
<rect x="386" y="122" width="5" height="22" fill="#7d8e97"/>
<rect x="393" y="129" width="1" height="25" fill="#7d8e97"/>
<rect x="391" y="144" width="5" height="2" fill="#7d8e97"/>
<rect x="398" y="138" width="1" height="14" fill="#7d8e97"/>
<rect x="396" y="142" width="5" height="3" fill="#7d8e97"/>
<rect x="397" y="143" width="3" height="1" fill="#fff"/>
<rect x="403" y="117" width="1" height="32" fill="#7d8e97"/>
<rect x="401" y="118" width="5" height="24" fill="#7d8e97"/>
<rect x="402" y="119" width="3" height="22" fill="#fff"/>
<rect x="408" y="99" width="1" height="21" fill="#7d8e97"/>
<rect x="406" y="102" width="5" height="17" fill="#7d8e97"/>
<rect x="407" y="103" width="3" height="15" fill="#fff"/>
<rect x="413" y="98" width="1" height="22" fill="#7d8e97"/>
<rect x="411" y="102" width="5" height="14" fill="#7d8e97"/>
<rect x="418" y="103" width="1" height="22" fill="#7d8e97"/>
<rect x="416" y="107" width="5" height="9" fill="#7d8e97"/>
<rect x="417" y="108" width="3" height="7" fill="#fff"/>
<rect x="423" y="106" width="1" height="25" fill="#7d8e97"/>
<rect x="421" y="108" width="5" height="19" fill="#7d8e97"/>
<rect x="429" y="114" width="1" height="20" fill="#7d8e97"/>
<rect x="427" y="120" width="5" height="7" fill="#7d8e97"/>
<rect x="428" y="121" width="3" height="5" fill="#fff"/>
<rect x="434" y="115" width="1" height="25" fill="#7d8e97"/>
<rect x="432" y="120" width="5" height="18" fill="#7d8e97"/>
<rect x="439" y="132" width="1" height="10" fill="#7d8e97"/>
<rect x="437" y="137" width="5" height="2" fill="#7d8e97"/>
<rect x="444" y="138" width="1" height="48" fill="#7d8e97"/>
<rect x="442" y="139" width="5" height="29" fill="#7d8e97"/>
<rect x="449" y="166" width="1" height="35" fill="#7d8e97"/>
<rect x="447" y="166" width="5" height="18" fill="#7d8e97"/>
<rect x="454" y="177" width="1" height="44" fill="#7d8e97"/>
<rect x="452" y="183" width="5" height="24" fill="#7d8e97"/>
<rect x="459" y="197" width="1" height="19" fill="#7d8e97"/>
<rect x="457" y="205" width="5" height="3" fill="#7d8e97"/>
<rect x="458" y="206" width="3" height="1" fill="#fff"/>
<rect x="465" y="161" width="1" height="51" fill="#7d8e97"/>
<rect x="463" y="172" width="5" height="33" fill="#7d8e97"/>
<rect x="464" y="173" width="3" height="31" fill="#fff"/>
<rect x="470" y="165" width="1" height="27" fill="#7d8e97"/>
<rect x="468" y="173" width="5" height="15" fill="#7d8e97"/>
<rect x="475" y="176" width="1" height="23" fill="#7d8e97"/>
<rect x="473" y="186" width="5" height="2" fill="#7d8e97"/>
<rect x="480" y="184" width="1" height="23" fill="#7d8e97"/>
<rect x="478" y="186" width="5" height="17" fill="#7d8e97"/>
<rect x="485" y="198" width="1" height="17" fill="#7d8e97"/>
<rect x="483" y="202" width="5" height="6" fill="#7d8e97"/>
<rect x="490" y="196" width="1" height="17" fill="#7d8e97"/>
<rect x="488" y="207" width="5" height="4" fill="#7d8e97"/>
<rect x="495" y="183" width="1" height="29" fill="#7d8e97"/>
<rect x="493" y="191" width="5" height="21" fill="#7d8e97"/>
<rect x="494" y="192" width="3" height="19" fill="#fff"/>
<rect x="500" y="186" width="1" height="21" fill="#7d8e97"/>
<rect x="498" y="190" width="5" height="15" fill="#7d8e97"/>
<rect x="506" y="199" width="1" height="14" fill="#7d8e97"/>
<rect x="504" y="204" width="5" height="7" fill="#7d8e97"/>
<rect x="511" y="202" width="1" height="14" fill="#7d8e97"/>
<rect x="509" y="210" width="5" height="4" fill="#7d8e97"/>
<rect x="516" y="191" width="1" height="25" fill="#7d8e97"/>
<rect x="514" y="193" width="5" height="21" fill="#7d8e97"/>
<rect x="515" y="194" width="3" height="19" fill="#fff"/>
<rect x="521" y="188" width="1" height="12" fill="#7d8e97"/>
<rect x="519" y="193" width="5" height="6" fill="#7d8e97"/>
<rect x="526" y="197" width="1" height="13" fill="#7d8e97"/>
<rect x="524" y="199" width="5" height="9" fill="#7d8e97"/>
<rect x="531" y="206" width="1" height="28" fill="#7d8e97"/>
<rect x="529" y="207" width="5" height="26" fill="#7d8e97"/>
<rect x="536" y="223" width="1" height="25" fill="#7d8e97"/>
<rect x="534" y="232" width="5" height="10" fill="#7d8e97"/>
<rect x="541" y="235" width="1" height="20" fill="#7d8e97"/>
<rect x="539" y="242" width="5" height="8" fill="#7d8e97"/>
<rect x="547" y="228" width="1" height="38" fill="#7d8e97"/>
<rect x="545" y="247" width="5" height="4" fill="#7d8e97"/>
<rect x="546" y="248" width="3" height="2" fill="#fff"/>
<rect x="552" y="216" width="1" height="34" fill="#7d8e97"/>
<rect x="550" y="229" width="5" height="18" fill="#7d8e97"/>
<rect x="551" y="230" width="3" height="16" fill="#fff"/>
<rect x="557" y="224" width="1" height="19" fill="#7d8e97"/>
<rect x="555" y="230" width="5" height="7" fill="#7d8e97"/>
<rect x="562" y="227" width="1" height="26" fill="#7d8e97"/>
<rect x="560" y="236" width="5" height="1" fill="#7d8e97"/>
<rect x="567" y="228" width="1" height="21" fill="#7d8e97"/>
<rect x="565" y="236" width="5" height="7" fill="#7d8e97"/>
<rect x="572" y="224" width="1" height="21" fill="#7d8e97"/>
<rect x="570" y="236" width="5" height="5" fill="#7d8e97"/>
<rect x="571" y="237" width="3" height="3" fill="#fff"/>
<rect x="577" y="230" width="1" height="20" fill="#7d8e97"/>
<rect x="575" y="235" width="5" height="13" fill="#7d8e97"/>
<rect x="583" y="244" width="1" height="20" fill="#7d8e97"/>
<rect x="581" y="247" width="5" height="12" fill="#7d8e97"/>
<rect x="588" y="246" width="1" height="23" fill="#7d8e97"/>
<rect x="586" y="258" width="5" height="3" fill="#7d8e97"/>
<rect x="593" y="249" width="1" height="16" fill="#7d8e97"/>
<rect x="591" y="260" width="5" height="3" fill="#7d8e97"/>
<rect x="592" y="261" width="3" height="1" fill="#fff"/>
<rect x="598" y="239" width="1" height="25" fill="#7d8e97"/>
<rect x="596" y="249" width="5" height="13" fill="#7d8e97"/>
<rect x="597" y="250" width="3" height="11" fill="#fff"/>
<rect x="603" y="248" width="1" height="22" fill="#7d8e97"/>
<rect x="601" y="248" width="5" height="19" fill="#7d8e97"/>
<rect x="608" y="259" width="1" height="14" fill="#7d8e97"/>
<rect x="606" y="266" width="5" height="5" fill="#7d8e97"/>
<rect x="613" y="260" width="1" height="12" fill="#7d8e97"/>
<rect x="611" y="265" width="5" height="6" fill="#7d8e97"/>
<rect x="612" y="266" width="3" height="4" fill="#fff"/>
<rect x="618" y="243" width="1" height="23" fill="#7d8e97"/>
<rect x="616" y="257" width="5" height="8" fill="#7d8e97"/>
<rect x="617" y="258" width="3" height="6" fill="#fff"/>
<rect x="624" y="241" width="1" height="18" fill="#7d8e97"/>
<rect x="622" y="250" width="5" height="7" fill="#7d8e97"/>
<rect x="623" y="251" width="3" height="5" fill="#fff"/>
<rect x="629" y="221" width="1" height="37" fill="#7d8e97"/>
<rect x="627" y="222" width="5" height="28" fill="#7d8e97"/>
<rect x="628" y="223" width="3" height="26" fill="#fff"/>
<rect x="634" y="221" width="1" height="24" fill="#7d8e97"/>
<rect x="632" y="222" width="5" height="22" fill="#7d8e97"/>
<rect x="639" y="212" width="1" height="34" fill="#7d8e97"/>
<rect x="637" y="213" width="5" height="31" fill="#7d8e97"/>
<rect x="638" y="214" width="3" height="29" fill="#fff"/>
<rect x="644" y="191" width="1" height="22" fill="#7d8e97"/>
<rect x="642" y="200" width="5" height="14" fill="#7d8e97"/>
<rect x="643" y="201" width="3" height="12" fill="#fff"/>
<rect x="649" y="195" width="1" height="23" fill="#7d8e97"/>
<rect x="647" y="198" width="5" height="17" fill="#7d8e97"/>
<rect x="654" y="200" width="1" height="15" fill="#7d8e97"/>
<rect x="652" y="210" width="5" height="4" fill="#7d8e97"/>
<rect x="653" y="211" width="3" height="2" fill="#fff"/>
<rect x="660" y="208" width="1" height="24" fill="#7d8e97"/>
<rect x="658" y="209" width="5" height="15" fill="#7d8e97"/>
<rect x="665" y="211" width="1" height="31" fill="#7d8e97"/>
<rect x="663" y="222" width="5" height="16" fill="#7d8e97"/>
<rect x="670" y="229" width="1" height="19" fill="#7d8e97"/>
<rect x="668" y="237" width="5" height="7" fill="#7d8e97"/>
<rect x="675" y="225" width="1" height="20" fill="#7d8e97"/>
<rect x="673" y="226" width="5" height="18" fill="#7d8e97"/>
<rect x="674" y="227" width="3" height="16" fill="#fff"/>
<rect x="680" y="216" width="1" height="14" fill="#7d8e97"/>
<rect x="678" y="218" width="5" height="9" fill="#7d8e97"/>
<rect x="679" y="219" width="3" height="7" fill="#fff"/>
<rect x="685" y="216" width="1" height="19" fill="#7d8e97"/>
<rect x="683" y="218" width="5" height="2" fill="#7d8e97"/>
<rect x="690" y="215" width="1" height="16" fill="#7d8e97"/>
<rect x="688" y="219" width="5" height="11" fill="#7d8e97"/>
<rect x="695" y="228" width="1" height="15" fill="#7d8e97"/>
<rect x="693" y="227" width="5" height="3" fill="#7d8e97"/>
<rect x="694" y="228" width="3" height="1" fill="#fff"/>
<rect x="701" y="224" width="1" height="17" fill="#7d8e97"/>
<rect x="699" y="228" width="5" height="9" fill="#7d8e97"/>
<rect x="706" y="233" width="1" height="31" fill="#7d8e97"/>
<rect x="704" y="234" width="5" height="3" fill="#7d8e97"/>
<rect x="705" y="235" width="3" height="1" fill="#fff"/>
<rect x="711" y="224" width="1" height="19" fill="#7d8e97"/>
<rect x="709" y="226" width="5" height="9" fill="#7d8e97"/>
<rect x="710" y="227" width="3" height="7" fill="#fff"/>
<rect x="716" y="218" width="1" height="19" fill="#7d8e97"/>
<rect x="714" y="225" width="5" height="11" fill="#7d8e97"/>
<rect x="721" y="227" width="1" height="13" fill="#7d8e97"/>
<rect x="719" y="235" width="5" height="1" fill="#7d8e97"/>
<rect x="726" y="228" width="1" height="12" fill="#7d8e97"/>
<rect x="724" y="235" width="5" height="4" fill="#7d8e97"/>
<rect x="731" y="230" width="1" height="18" fill="#7d8e97"/>
<rect x="729" y="230" width="5" height="9" fill="#7d8e97"/>
<rect x="730" y="231" width="3" height="7" fill="#fff"/>
<rect x="736" y="224" width="1" height="12" fill="#7d8e97"/>
<rect x="734" y="229" width="5" height="3" fill="#7d8e97"/>
<rect x="735" y="230" width="3" height="1" fill="#fff"/>
<rect x="742" y="228" width="1" height="14" fill="#7d8e97"/>
<rect x="740" y="229" width="5" height="10" fill="#7d8e97"/>
<rect x="747" y="233" width="1" height="10" fill="#7d8e97"/>
<rect x="745" y="238" width="5" height="3" fill="#7d8e97"/>
<rect x="752" y="228" width="1" height="14" fill="#7d8e97"/>
<rect x="750" y="238" width="5" height="2" fill="#7d8e97"/>
<rect x="757" y="233" width="1" height="10" fill="#7d8e97"/>
<rect x="755" y="238" width="5" height="2" fill="#7d8e97"/>
<rect x="762" y="228" width="1" height="16" fill="#7d8e97"/>
<rect x="760" y="238" width="5" height="4" fill="#7d8e97"/>
<rect x="767" y="240" width="1" height="13" fill="#7d8e97"/>
<rect x="765" y="241" width="5" height="8" fill="#7d8e97"/>
<rect x="772" y="248" width="1" height="16" fill="#7d8e97"/>
<rect x="770" y="248" width="5" height="13" fill="#7d8e97"/>
<rect x="778" y="259" width="1" height="10" fill="#7d8e97"/>
<rect x="776" y="258" width="5" height="3" fill="#7d8e97"/>
<rect x="777" y="259" width="3" height="1" fill="#fff"/>
<rect x="783" y="255" width="1" height="10" fill="#7d8e97"/>
<rect x="781" y="258" width="5" height="7" fill="#7d8e97"/>
<rect x="788" y="256" width="1" height="14" fill="#7d8e97"/>
<rect x="786" y="264" width="5" height="1" fill="#7d8e97"/>
<rect x="793" y="248" width="1" height="17" fill="#7d8e97"/>
<rect x="791" y="248" width="5" height="16" fill="#7d8e97"/>
<rect x="792" y="249" width="3" height="14" fill="#fff"/>
<rect x="798" y="241" width="1" height="12" fill="#7d8e97"/>
<rect x="796" y="242" width="5" height="7" fill="#7d8e97"/>
<rect x="797" y="243" width="3" height="5" fill="#fff"/>
<rect x="803" y="241" width="1" height="9" fill="#7d8e97"/>
<rect x="801" y="242" width="5" height="6" fill="#7d8e97"/>
<rect x="808" y="247" width="1" height="9" fill="#7d8e97"/>
<rect x="806" y="247" width="5" height="7" fill="#7d8e97"/>
<rect x="813" y="251" width="1" height="8" fill="#7d8e97"/>
<rect x="811" y="253" width="5" height="3" fill="#7d8e97"/>
<rect x="819" y="255" width="1" height="10" fill="#7d8e97"/>
<rect x="817" y="255" width="5" height="6" fill="#7d8e97"/>
<rect x="824" y="248" width="1" height="12" fill="#7d8e97"/>
<rect x="822" y="251" width="5" height="10" fill="#7d8e97"/>
<rect x="823" y="252" width="3" height="8" fill="#fff"/>
<rect x="829" y="235" width="1" height="22" fill="#7d8e97"/>
<rect x="827" y="238" width="5" height="14" fill="#7d8e97"/>
<rect x="828" y="239" width="3" height="12" fill="#fff"/>
<rect x="834" y="214" width="1" height="31" fill="#7d8e97"/>
<rect x="832" y="218" width="5" height="23" fill="#7d8e97"/>
<rect x="833" y="219" width="3" height="21" fill="#fff"/>
<rect x="839" y="204" width="1" height="28" fill="#7d8e97"/>
<rect x="837" y="216" width="5" height="17" fill="#7d8e97"/>
<rect x="844" y="218" width="1" height="15" fill="#7d8e97"/>
<rect x="842" y="221" width="5" height="11" fill="#7d8e97"/>
<rect x="843" y="222" width="3" height="9" fill="#fff"/>
<rect x="849" y="219" width="1" height="18" fill="#7d8e97"/>
<rect x="847" y="220" width="5" height="12" fill="#7d8e97"/>
<rect x="854" y="219" width="1" height="19" fill="#7d8e97"/>
<rect x="852" y="222" width="5" height="10" fill="#7d8e97"/>
<rect x="853" y="223" width="3" height="8" fill="#fff"/>
<rect x="860" y="213" width="1" height="17" fill="#7d8e97"/>
<rect x="858" y="222" width="5" height="1" fill="#7d8e97"/>
<rect x="865" y="212" width="1" height="26" fill="#7d8e97"/>
<rect x="863" y="220" width="5" height="19" fill="#7d8e97"/>
<rect x="870" y="225" width="1" height="77" fill="#7d8e97"/>
<rect x="868" y="237" width="5" height="29" fill="#7d8e97"/>
<rect x="875" y="239" width="1" height="31" fill="#7d8e97"/>
<rect x="873" y="256" width="5" height="10" fill="#7d8e97"/>
<rect x="874" y="257" width="3" height="8" fill="#fff"/>
<rect x="880" y="216" width="1" height="43" fill="#7d8e97"/>
<rect x="878" y="216" width="5" height="39" fill="#7d8e97"/>
<rect x="879" y="217" width="3" height="37" fill="#fff"/>
<rect x="885" y="212" width="1" height="13" fill="#7d8e97"/>
<rect x="883" y="215" width="5" height="1" fill="#7d8e97"/>
<rect x="890" y="152" width="1" height="70" fill="#7d8e97"/>
<rect x="888" y="167" width="5" height="50" fill="#7d8e97"/>
<rect x="889" y="168" width="3" height="48" fill="#fff"/>
<rect x="896" y="129" width="1" height="44" fill="#7d8e97"/>
<rect x="894" y="137" width="5" height="28" fill="#7d8e97"/>
<rect x="895" y="138" width="3" height="26" fill="#fff"/>
<rect x="901" y="133" width="1" height="54" fill="#7d8e97"/>
<rect x="899" y="138" width="5" height="36" fill="#7d8e97"/>
<rect x="906" y="156" width="1" height="25" fill="#7d8e97"/>
<rect x="904" y="172" width="5" height="3" fill="#7d8e97"/>
<rect x="905" y="173" width="3" height="1" fill="#fff"/>
<rect x="911" y="153" width="1" height="33" fill="#7d8e97"/>
<rect x="909" y="172" width="5" height="9" fill="#7d8e97"/>
<rect x="916" y="143" width="1" height="36" fill="#7d8e97"/>
<rect x="914" y="151" width="5" height="29" fill="#7d8e97"/>
<rect x="915" y="152" width="3" height="27" fill="#fff"/>
<rect x="921" y="140" width="1" height="30" fill="#7d8e97"/>
<rect x="919" y="148" width="5" height="2" fill="#7d8e97"/>
<rect x="926" y="126" width="1" height="30" fill="#7d8e97"/>
<rect x="924" y="138" width="5" height="14" fill="#7d8e97"/>
<rect x="931" y="146" width="1" height="26" fill="#7d8e97"/>
<rect x="929" y="149" width="5" height="17" fill="#7d8e97"/>
<rect x="937" y="149" width="1" height="19" fill="#7d8e97"/>
<rect x="935" y="155" width="5" height="11" fill="#7d8e97"/>
<rect x="936" y="156" width="3" height="9" fill="#fff"/>
<rect x="942" y="135" width="1" height="21" fill="#7d8e97"/>
<rect x="940" y="141" width="5" height="14" fill="#7d8e97"/>
<rect x="941" y="142" width="3" height="12" fill="#fff"/>
<rect x="947" y="136" width="1" height="22" fill="#7d8e97"/>
<rect x="945" y="140" width="5" height="14" fill="#7d8e97"/>
<rect x="952" y="148" width="1" height="18" fill="#7d8e97"/>
<rect x="950" y="152" width="5" height="6" fill="#7d8e97"/>
<rect x="957" y="154" width="1" height="29" fill="#7d8e97"/>
<rect x="955" y="157" width="5" height="13" fill="#7d8e97"/>
<rect x="962" y="162" width="1" height="29" fill="#7d8e97"/>
<rect x="960" y="169" width="5" height="16" fill="#7d8e97"/>
<rect x="967" y="162" width="1" height="24" fill="#7d8e97"/>
<rect x="965" y="169" width="5" height="15" fill="#7d8e97"/>
<rect x="966" y="170" width="3" height="13" fill="#fff"/>
<rect x="973" y="158" width="1" height="22" fill="#7d8e97"/>
<rect x="971" y="169" width="5" height="10" fill="#7d8e97"/>
<rect x="978" y="173" width="1" height="18" fill="#7d8e97"/>
<rect x="976" y="175" width="5" height="4" fill="#7d8e97"/>
<rect x="977" y="176" width="3" height="2" fill="#fff"/>
<rect x="983" y="163" width="1" height="23" fill="#7d8e97"/>
<rect x="981" y="174" width="5" height="8" fill="#7d8e97"/>
<rect x="988" y="157" width="1" height="29" fill="#7d8e97"/>
<rect x="986" y="166" width="5" height="16" fill="#7d8e97"/>
<rect x="987" y="167" width="3" height="14" fill="#fff"/>
<rect x="993" y="144" width="1" height="25" fill="#7d8e97"/>
<rect x="991" y="160" width="5" height="6" fill="#7d8e97"/>
<rect x="992" y="161" width="3" height="4" fill="#fff"/>
<rect x="998" y="151" width="1" height="29" fill="#7d8e97"/>
<rect x="996" y="161" width="5" height="16" fill="#7d8e97"/>
<rect x="1003" y="174" width="1" height="25" fill="#7d8e97"/>
<rect x="1001" y="178" width="5" height="10" fill="#7d8e97"/>
<rect x="1008" y="180" width="1" height="22" fill="#7d8e97"/>
<rect x="1006" y="189" width="5" height="11" fill="#7d8e97"/>
<rect x="1014" y="199" width="1" height="23" fill="#7d8e97"/>
<rect x="1012" y="199" width="5" height="2" fill="#7d8e97"/>
<rect x="1019" y="194" width="1" height="30" fill="#7d8e97"/>
<rect x="1017" y="199" width="5" height="25" fill="#7d8e97"/>
<rect x="1024" y="202" width="1" height="27" fill="#7d8e97"/>
<rect x="1022" y="212" width="5" height="12" fill="#7d8e97"/>
<rect x="1023" y="213" width="3" height="10" fill="#fff"/>
<rect x="1029" y="191" width="1" height="31" fill="#7d8e97"/>
<rect x="1027" y="210" width="5" height="3" fill="#7d8e97"/>
<rect x="1028" y="211" width="3" height="1" fill="#fff"/>
<rect x="1034" y="181" width="1" height="33" fill="#7d8e97"/>
<rect x="1032" y="187" width="5" height="24" fill="#7d8e97"/>
<rect x="1033" y="188" width="3" height="22" fill="#fff"/>
<rect x="1039" y="165" width="1" height="19" fill="#7d8e97"/>
<rect x="1037" y="170" width="5" height="12" fill="#7d8e97"/>
<rect x="1038" y="171" width="3" height="10" fill="#fff"/>
<rect x="1044" y="163" width="1" height="16" fill="#7d8e97"/>
<rect x="1042" y="167" width="5" height="4" fill="#7d8e97"/>
<rect x="1049" y="163" width="1" height="36" fill="#7d8e97"/>
<rect x="1047" y="170" width="5" height="24" fill="#7d8e97"/>
<rect x="1055" y="166" width="1" height="38" fill="#7d8e97"/>
<rect x="1053" y="169" width="5" height="25" fill="#7d8e97"/>
<rect x="1054" y="170" width="3" height="23" fill="#fff"/>
<rect x="1060" y="153" width="1" height="19" fill="#7d8e97"/>
<rect x="1058" y="160" width="5" height="8" fill="#7d8e97"/>
<rect x="1059" y="161" width="3" height="6" fill="#fff"/>
<rect x="1065" y="151" width="1" height="28" fill="#7d8e97"/>
<rect x="1063" y="158" width="5" height="15" fill="#7d8e97"/>
<rect x="1070" y="164" width="1" height="21" fill="#7d8e97"/>
<rect x="1068" y="172" width="5" height="5" fill="#7d8e97"/>
<rect x="1075" y="158" width="1" height="22" fill="#7d8e97"/>
<rect x="1073" y="162" width="5" height="16" fill="#7d8e97"/>
<rect x="1074" y="163" width="3" height="14" fill="#fff"/>
<rect x="1080" y="158" width="1" height="26" fill="#7d8e97"/>
<rect x="1078" y="162" width="5" height="2" fill="#7d8e97"/>
<rect x="1085" y="160" width="1" height="23" fill="#7d8e97"/>
<rect x="1083" y="163" width="5" height="19" fill="#7d8e97"/>
<rect x="1091" y="170" width="1" height="26" fill="#7d8e97"/>
<rect x="1089" y="178" width="5" height="4" fill="#7d8e97"/>
<rect x="1090" y="179" width="3" height="2" fill="#fff"/>
<rect x="1096" y="156" width="1" height="30" fill="#7d8e97"/>
<rect x="1094" y="157" width="5" height="21" fill="#7d8e97"/>
<rect x="1095" y="158" width="3" height="19" fill="#fff"/>
<rect x="1101" y="152" width="1" height="27" fill="#7d8e97"/>
<rect x="1099" y="156" width="5" height="13" fill="#7d8e97"/>
<rect x="1106" y="166" width="1" height="19" fill="#7d8e97"/>
<rect x="1104" y="168" width="5" height="8" fill="#7d8e97"/>
<rect x="1111" y="172" width="1" height="14" fill="#7d8e97"/>
<rect x="1109" y="176" width="5" height="3" fill="#7d8e97"/>
<rect x="1116" y="154" width="1" height="26" fill="#7d8e97"/>
<rect x="1114" y="162" width="5" height="17" fill="#7d8e97"/>
<rect x="1115" y="163" width="3" height="15" fill="#fff"/>
<rect x="1121" y="129" width="1" height="34" fill="#7d8e97"/>
<rect x="1119" y="150" width="5" height="11" fill="#7d8e97"/>
<rect x="1120" y="151" width="3" height="9" fill="#fff"/>
<rect x="1126" y="112" width="1" height="40" fill="#7d8e97"/>
<rect x="1124" y="116" width="5" height="35" fill="#7d8e97"/>
<rect x="1125" y="117" width="3" height="33" fill="#fff"/>
</g>
<g shape-rendering="crispEdges" fill="none" stroke="#c0c0c0" stroke-width="1">
<rect x="16.5" y="28.5" width="1143" height="339"/>
<rect x="16.5" y="381.5" width="1143" height="203"/>
</g>
<g shape-rendering="crispEdges">
<rect x="17" y="449" width="1144" height="1" fill="#000090"/>
</g>
<line x1="18" y1="505.5" x2="1159" y2="505.5" stroke="#444" stroke-width="1" stroke-dasharray="2 3 7 3" shape-rendering="crispEdges"/>
<clipPath id="c2"><rect x="17" y="382" width="1142" height="202"/></clipPath>
<polyline clip-path="url(#c2)" points="13.4,452.0 18.6,460.8 23.7,512.8 28.8,531.3 34.0,497.5 39.1,496.3 44.2,492.5 49.4,494.2 54.5,485.3 59.6,488.3 64.7,501.3 69.9,499.2 75.0,505.0 80.1,514.2 85.3,516.3 90.4,511.3 95.5,520.5 100.7,486.3 105.8,487.5 110.9,479.3 116.1,493.3 121.2,476.7 126.3,440.3 131.5,475.8 136.6,508.3 141.7,528.8 146.9,502.5 152.0,493.3 157.1,534.2 162.2,552.5 167.4,577.5 172.5,548.0 177.6,517.5 182.8,458.3 187.9,460.5 193.0,480.0 198.2,508.3 203.3,474.2 208.4,497.5 213.6,484.2 218.7,512.5 223.8,469.2 229.0,478.3 234.1,466.3 239.2,503.0 244.3,505.3 249.5,522.2 254.6,498.3 259.7,481.3 264.9,486.7 270.0,494.2 275.1,510.5 280.3,496.7 285.4,478.3 290.5,445.5 295.7,432.4 300.8,438.5 305.9,481.3 311.1,474.2 316.2,469.5 321.3,388.3 326.5,483.3 331.6,517.5 336.7,534.5 341.8,491.7 347.0,527.0 352.1,528.3 357.2,539.5 362.4,517.2 367.5,510.4 372.6,496.7 377.8,479.5 382.9,515.8 388.0,538.7 393.2,529.8 398.3,521.3 403.4,482.5 408.6,463.3 413.7,479.2 418.8,495.0 424.0,524.6 429.1,509.2 434.2,529.6 439.3,515.3 444.5,542.5 449.6,540.0 454.7,555.5 459.9,535.0 465.0,495.0 470.1,487.8 475.3,487.5 480.4,529.6 485.5,522.1 490.7,525.3 495.8,495.3 500.9,502.0 506.1,505.3 511.2,523.3 516.3,494.2 521.4,494.2 526.6,499.7 531.7,536.3 536.8,538.3 542.0,538.3 547.1,518.3 552.2,494.2 557.4,493.3 562.5,494.2 567.6,515.3 572.8,504.2 577.9,513.8 583.0,518.5 588.2,525.3 593.3,517.0 598.4,496.7 603.6,511.3 608.7,512.5 613.8,518.0 618.9,495.0 624.1,486.7 629.2,464.7 634.3,493.3 639.5,470.5 644.6,483.3 649.7,478.3 654.9,502.0 660.0,525.5 665.1,524.5 670.3,532.2 675.4,508.0 680.5,485.5 685.7,482.8 690.8,507.5 695.9,514.2 701.1,519.5 706.2,510.5 711.3,503.3 716.4,504.2 721.6,506.7 726.7,515.3 731.8,500.3 737.0,500.3 742.1,505.3 747.2,513.0 752.4,513.3 757.5,504.2 762.6,506.2 767.8,513.3 772.9,523.3 778.0,520.4 783.2,518.0 788.3,510.0 793.4,496.7 798.6,485.3 803.7,489.2 808.8,510.0 813.9,516.3 819.1,516.3 824.2,504.2 829.3,490.0 834.5,463.8 839.6,488.3 844.7,489.5 849.9,516.2 855.0,496.7 860.1,504.2 865.3,511.2 870.4,539.2 875.5,532.5 880.7,485.0 885.8,450.3 890.9,406.0 896.0,417.0 901.2,456.7 906.3,505.0 911.4,538.3 916.6,485.3 921.7,483.3 926.8,478.7 932.0,516.3 937.1,511.7 942.2,495.5 947.4,494.5 952.5,506.7 957.6,528.3 962.8,530.3 967.9,515.5 973.0,513.0 978.2,495.5 983.3,515.3 988.4,494.2 993.5,493.3 998.7,500.3 1003.8,522.5 1008.9,535.3 1014.1,525.5 1019.2,533.3 1024.3,515.3 1029.5,513.0 1034.6,470.5 1039.7,463.7 1044.9,465.5 1050.0,510.5 1055.1,504.2 1060.3,495.0 1065.4,486.7 1070.5,512.5 1075.7,506.7 1080.8,496.7 1085.9,508.8 1091.0,518.3 1096.2,499.7 1101.3,493.7 1106.4,503.3 1111.6,522.5 1116.7,498.3 1121.8,480.8 1127.0,440.8" fill="none" stroke="#000" stroke-width="1.5" stroke-linejoin="round"/>
<g shape-rendering="crispEdges" stroke="#ff00ff" stroke-width="1" stroke-dasharray="4 2">
<line x1="126.5" y1="28" x2="126.5" y2="584"/>
<line x1="290.5" y1="28" x2="290.5" y2="584"/>
<line x1="885.5" y1="28" x2="885.5" y2="584"/>
<line x1="1126.5" y1="28" x2="1126.5" y2="584"/>
</g>
<text x="16" y="13.5" font-family="'Liberation Sans', Arial, sans-serif" font-size="14" font-weight="bold" text-anchor="start" fill="#000" textLength="53.5" lengthAdjust="spacingAndGlyphs">$SILVER</text>
<text x="73.5" y="13" font-family="'Liberation Sans', Arial, sans-serif" font-size="11" font-weight="normal" text-anchor="start" fill="#000" textLength="166.5" lengthAdjust="spacingAndGlyphs">Silver - Continuous Contract (EOD)</text>
<text x="246" y="13" font-family="'Liberation Sans', Arial, sans-serif" font-size="9" font-weight="normal" text-anchor="start" fill="#000" textLength="20" lengthAdjust="spacingAndGlyphs">CME</text>
<text x="16" y="25.5" font-family="'Liberation Sans', Arial, sans-serif" font-size="9.6" font-weight="normal" text-anchor="start" fill="#000" textLength="62" lengthAdjust="spacingAndGlyphs">21-May-2024</text>
<text x="1159.6" y="13" font-family="'Liberation Sans', Arial, sans-serif" font-size="11" font-weight="normal" text-anchor="end" fill="#444" textLength="90" lengthAdjust="spacingAndGlyphs">© StockCharts.com</text>
<text x="705" y="26" font-family="'Liberation Sans', Arial, sans-serif" font-size="11" font-weight="bold" text-anchor="start" fill="#000" textLength="28" lengthAdjust="spacingAndGlyphs">Open</text>
<text x="736.6" y="26" font-family="'Liberation Sans', Arial, sans-serif" font-size="9.7" font-weight="normal" text-anchor="start" fill="#000" textLength="26.4" lengthAdjust="spacingAndGlyphs">26.55</text>
<text x="769.6" y="26" font-family="'Liberation Sans', Arial, sans-serif" font-size="11" font-weight="bold" text-anchor="start" fill="#000" textLength="23.6" lengthAdjust="spacingAndGlyphs">High</text>
<text x="797" y="26" font-family="'Liberation Sans', Arial, sans-serif" font-size="9.7" font-weight="normal" text-anchor="start" fill="#000" textLength="26" lengthAdjust="spacingAndGlyphs">32.75</text>
<text x="829.6" y="26" font-family="'Liberation Sans', Arial, sans-serif" font-size="11" font-weight="bold" text-anchor="start" fill="#000" textLength="23" lengthAdjust="spacingAndGlyphs">Low</text>
<text x="857" y="26" font-family="'Liberation Sans', Arial, sans-serif" font-size="9.7" font-weight="normal" text-anchor="start" fill="#000" textLength="26" lengthAdjust="spacingAndGlyphs">26.25</text>
<text x="889.6" y="26" font-family="'Liberation Sans', Arial, sans-serif" font-size="11" font-weight="bold" text-anchor="start" fill="#000" textLength="31.5" lengthAdjust="spacingAndGlyphs">Close</text>
<text x="925" y="26" font-family="'Liberation Sans', Arial, sans-serif" font-size="9.7" font-weight="normal" text-anchor="start" fill="#000" textLength="26" lengthAdjust="spacingAndGlyphs">32.08</text>
<text x="958.5" y="26" font-family="'Liberation Sans', Arial, sans-serif" font-size="11" font-weight="bold" text-anchor="start" fill="#000" textLength="40.8" lengthAdjust="spacingAndGlyphs">Volume</text>
<text x="1004.5" y="26" font-family="'Liberation Sans', Arial, sans-serif" font-size="9.7" font-weight="normal" text-anchor="start" fill="#000" textLength="34.5" lengthAdjust="spacingAndGlyphs">121.9M</text>
<text x="1046" y="26" font-family="'Liberation Sans', Arial, sans-serif" font-size="11" font-weight="bold" text-anchor="start" fill="#000" textLength="21" lengthAdjust="spacingAndGlyphs">Chg</text>
<text x="1071" y="26" font-family="'Liberation Sans', Arial, sans-serif" font-size="9.7" font-weight="normal" text-anchor="start" fill="#000" textLength="77" lengthAdjust="spacingAndGlyphs">+5.42 (+20.35%)</text>
<polygon points="1152,25 1159.6,25 1155.8,20.5" fill="#2a6a2a"/>
<g shape-rendering="crispEdges" fill="#7d8e97">
<rect x="19" y="32" width="3" height="4"/><rect x="20" y="31" width="1" height="7"/><rect x="20" y="33" width="1" height="2" fill="#fff"/>
<rect x="22" y="34" width="3" height="4"/><rect x="23" y="34" width="1" height="5"/>
<rect x="25" y="32" width="3" height="6"/><rect x="26" y="31" width="1" height="8"/><rect x="26" y="33" width="1" height="4" fill="#fff"/>
</g>
<text x="32" y="40" font-family="'DejaVu Sans', Verdana, sans-serif" font-size="9.7" font-weight="normal" text-anchor="start" fill="#000" textLength="138" lengthAdjust="spacing">$SILVER (Monthly) 32.08</text>
<rect x="19" y="387" width="9" height="2" fill="#000" shape-rendering="crispEdges"/>
<text x="31.6" y="392" font-family="'DejaVu Sans', Verdana, sans-serif" font-size="9.7" font-weight="normal" text-anchor="start" fill="#000" textLength="87.5" lengthAdjust="spacing">ROC(3) 40.17%</text>
<text x="46.6" y="378" font-family="'Liberation Sans', Arial, sans-serif" font-size="10.2" font-weight="normal" text-anchor="start" fill="#000" textLength="23.8" lengthAdjust="spacingAndGlyphs">2007</text>
<text x="46.6" y="595" font-family="'Liberation Sans', Arial, sans-serif" font-size="10.2" font-weight="normal" text-anchor="start" fill="#000" textLength="23.8" lengthAdjust="spacingAndGlyphs">2007</text>
<text x="108.6" y="378" font-family="'Liberation Sans', Arial, sans-serif" font-size="10.2" font-weight="normal" text-anchor="start" fill="#000" textLength="23.8" lengthAdjust="spacingAndGlyphs">2008</text>
<text x="108.6" y="595" font-family="'Liberation Sans', Arial, sans-serif" font-size="10.2" font-weight="normal" text-anchor="start" fill="#000" textLength="23.8" lengthAdjust="spacingAndGlyphs">2008</text>
<text x="169.6" y="378" font-family="'Liberation Sans', Arial, sans-serif" font-size="10.2" font-weight="normal" text-anchor="start" fill="#000" textLength="23.8" lengthAdjust="spacingAndGlyphs">2009</text>
<text x="169.6" y="595" font-family="'Liberation Sans', Arial, sans-serif" font-size="10.2" font-weight="normal" text-anchor="start" fill="#000" textLength="23.8" lengthAdjust="spacingAndGlyphs">2009</text>
<text x="231.6" y="378" font-family="'Liberation Sans', Arial, sans-serif" font-size="10.2" font-weight="normal" text-anchor="start" fill="#000" textLength="23.8" lengthAdjust="spacingAndGlyphs">2010</text>
<text x="231.6" y="595" font-family="'Liberation Sans', Arial, sans-serif" font-size="10.2" font-weight="normal" text-anchor="start" fill="#000" textLength="23.8" lengthAdjust="spacingAndGlyphs">2010</text>
<text x="292.6" y="378" font-family="'Liberation Sans', Arial, sans-serif" font-size="10.2" font-weight="normal" text-anchor="start" fill="#000" textLength="23.8" lengthAdjust="spacingAndGlyphs">2011</text>
<text x="292.6" y="595" font-family="'Liberation Sans', Arial, sans-serif" font-size="10.2" font-weight="normal" text-anchor="start" fill="#000" textLength="23.8" lengthAdjust="spacingAndGlyphs">2011</text>
<text x="354.6" y="378" font-family="'Liberation Sans', Arial, sans-serif" font-size="10.2" font-weight="normal" text-anchor="start" fill="#000" textLength="23.8" lengthAdjust="spacingAndGlyphs">2012</text>
<text x="354.6" y="595" font-family="'Liberation Sans', Arial, sans-serif" font-size="10.2" font-weight="normal" text-anchor="start" fill="#000" textLength="23.8" lengthAdjust="spacingAndGlyphs">2012</text>
<text x="416.6" y="378" font-family="'Liberation Sans', Arial, sans-serif" font-size="10.2" font-weight="normal" text-anchor="start" fill="#000" textLength="23.8" lengthAdjust="spacingAndGlyphs">2013</text>
<text x="416.6" y="595" font-family="'Liberation Sans', Arial, sans-serif" font-size="10.2" font-weight="normal" text-anchor="start" fill="#000" textLength="23.8" lengthAdjust="spacingAndGlyphs">2013</text>
<text x="477.6" y="378" font-family="'Liberation Sans', Arial, sans-serif" font-size="10.2" font-weight="normal" text-anchor="start" fill="#000" textLength="23.8" lengthAdjust="spacingAndGlyphs">2014</text>
<text x="477.6" y="595" font-family="'Liberation Sans', Arial, sans-serif" font-size="10.2" font-weight="normal" text-anchor="start" fill="#000" textLength="23.8" lengthAdjust="spacingAndGlyphs">2014</text>
<text x="539.6" y="378" font-family="'Liberation Sans', Arial, sans-serif" font-size="10.2" font-weight="normal" text-anchor="start" fill="#000" textLength="23.8" lengthAdjust="spacingAndGlyphs">2015</text>
<text x="539.6" y="595" font-family="'Liberation Sans', Arial, sans-serif" font-size="10.2" font-weight="normal" text-anchor="start" fill="#000" textLength="23.8" lengthAdjust="spacingAndGlyphs">2015</text>
<text x="600.6" y="378" font-family="'Liberation Sans', Arial, sans-serif" font-size="10.2" font-weight="normal" text-anchor="start" fill="#000" textLength="23.8" lengthAdjust="spacingAndGlyphs">2016</text>
<text x="600.6" y="595" font-family="'Liberation Sans', Arial, sans-serif" font-size="10.2" font-weight="normal" text-anchor="start" fill="#000" textLength="23.8" lengthAdjust="spacingAndGlyphs">2016</text>
<text x="662.6" y="378" font-family="'Liberation Sans', Arial, sans-serif" font-size="10.2" font-weight="normal" text-anchor="start" fill="#000" textLength="23.8" lengthAdjust="spacingAndGlyphs">2017</text>
<text x="662.6" y="595" font-family="'Liberation Sans', Arial, sans-serif" font-size="10.2" font-weight="normal" text-anchor="start" fill="#000" textLength="23.8" lengthAdjust="spacingAndGlyphs">2017</text>
<text x="723.6" y="378" font-family="'Liberation Sans', Arial, sans-serif" font-size="10.2" font-weight="normal" text-anchor="start" fill="#000" textLength="23.8" lengthAdjust="spacingAndGlyphs">2018</text>
<text x="723.6" y="595" font-family="'Liberation Sans', Arial, sans-serif" font-size="10.2" font-weight="normal" text-anchor="start" fill="#000" textLength="23.8" lengthAdjust="spacingAndGlyphs">2018</text>
<text x="785.6" y="378" font-family="'Liberation Sans', Arial, sans-serif" font-size="10.2" font-weight="normal" text-anchor="start" fill="#000" textLength="23.8" lengthAdjust="spacingAndGlyphs">2019</text>
<text x="785.6" y="595" font-family="'Liberation Sans', Arial, sans-serif" font-size="10.2" font-weight="normal" text-anchor="start" fill="#000" textLength="23.8" lengthAdjust="spacingAndGlyphs">2019</text>
<text x="847.6" y="378" font-family="'Liberation Sans', Arial, sans-serif" font-size="10.2" font-weight="normal" text-anchor="start" fill="#000" textLength="23.8" lengthAdjust="spacingAndGlyphs">2020</text>
<text x="847.6" y="595" font-family="'Liberation Sans', Arial, sans-serif" font-size="10.2" font-weight="normal" text-anchor="start" fill="#000" textLength="23.8" lengthAdjust="spacingAndGlyphs">2020</text>
<text x="908.6" y="378" font-family="'Liberation Sans', Arial, sans-serif" font-size="10.2" font-weight="normal" text-anchor="start" fill="#000" textLength="23.8" lengthAdjust="spacingAndGlyphs">2021</text>
<text x="908.6" y="595" font-family="'Liberation Sans', Arial, sans-serif" font-size="10.2" font-weight="normal" text-anchor="start" fill="#000" textLength="23.8" lengthAdjust="spacingAndGlyphs">2021</text>
<text x="970.6" y="378" font-family="'Liberation Sans', Arial, sans-serif" font-size="10.2" font-weight="normal" text-anchor="start" fill="#000" textLength="23.8" lengthAdjust="spacingAndGlyphs">2022</text>
<text x="970.6" y="595" font-family="'Liberation Sans', Arial, sans-serif" font-size="10.2" font-weight="normal" text-anchor="start" fill="#000" textLength="23.8" lengthAdjust="spacingAndGlyphs">2022</text>
<text x="1031.6" y="378" font-family="'Liberation Sans', Arial, sans-serif" font-size="10.2" font-weight="normal" text-anchor="start" fill="#000" textLength="23.8" lengthAdjust="spacingAndGlyphs">2023</text>
<text x="1031.6" y="595" font-family="'Liberation Sans', Arial, sans-serif" font-size="10.2" font-weight="normal" text-anchor="start" fill="#000" textLength="23.8" lengthAdjust="spacingAndGlyphs">2023</text>
<text x="1093.6" y="378" font-family="'Liberation Sans', Arial, sans-serif" font-size="10.2" font-weight="normal" text-anchor="start" fill="#000" textLength="23.8" lengthAdjust="spacingAndGlyphs">2024</text>
<text x="1093.6" y="595" font-family="'Liberation Sans', Arial, sans-serif" font-size="10.2" font-weight="normal" text-anchor="start" fill="#000" textLength="23.8" lengthAdjust="spacingAndGlyphs">2024</text>
<text x="1162.4" y="38" font-family="'Liberation Sans', Arial, sans-serif" font-size="10.2" font-weight="normal" text-anchor="start" fill="#000" textLength="21.3" lengthAdjust="spacingAndGlyphs">50.0</text>
<text x="1162.4" y="47" font-family="'Liberation Sans', Arial, sans-serif" font-size="10.2" font-weight="normal" text-anchor="start" fill="#000" textLength="21.3" lengthAdjust="spacingAndGlyphs">47.5</text>
<text x="1162.4" y="57" font-family="'Liberation Sans', Arial, sans-serif" font-size="10.2" font-weight="normal" text-anchor="start" fill="#000" textLength="21.3" lengthAdjust="spacingAndGlyphs">45.0</text>
<text x="1162.4" y="67" font-family="'Liberation Sans', Arial, sans-serif" font-size="10.2" font-weight="normal" text-anchor="start" fill="#000" textLength="21.3" lengthAdjust="spacingAndGlyphs">42.5</text>
<text x="1162.4" y="78" font-family="'Liberation Sans', Arial, sans-serif" font-size="10.2" font-weight="normal" text-anchor="start" fill="#000" textLength="21.3" lengthAdjust="spacingAndGlyphs">40.0</text>
<text x="1162.4" y="90" font-family="'Liberation Sans', Arial, sans-serif" font-size="10.2" font-weight="normal" text-anchor="start" fill="#000" textLength="21.3" lengthAdjust="spacingAndGlyphs">37.5</text>
<text x="1162.4" y="103" font-family="'Liberation Sans', Arial, sans-serif" font-size="10.2" font-weight="normal" text-anchor="start" fill="#000" textLength="21.3" lengthAdjust="spacingAndGlyphs">35.0</text>
<text x="1162.4" y="116" font-family="'Liberation Sans', Arial, sans-serif" font-size="10.2" font-weight="normal" text-anchor="start" fill="#000" textLength="21.3" lengthAdjust="spacingAndGlyphs">32.5</text>
<text x="1162.4" y="131" font-family="'Liberation Sans', Arial, sans-serif" font-size="10.2" font-weight="normal" text-anchor="start" fill="#000" textLength="21.3" lengthAdjust="spacingAndGlyphs">30.0</text>
<text x="1162.4" y="147" font-family="'Liberation Sans', Arial, sans-serif" font-size="10.2" font-weight="normal" text-anchor="start" fill="#000" textLength="21.3" lengthAdjust="spacingAndGlyphs">27.5</text>
<text x="1162.4" y="164" font-family="'Liberation Sans', Arial, sans-serif" font-size="10.2" font-weight="normal" text-anchor="start" fill="#000" textLength="21.3" lengthAdjust="spacingAndGlyphs">25.0</text>
<text x="1162.4" y="183" font-family="'Liberation Sans', Arial, sans-serif" font-size="10.2" font-weight="normal" text-anchor="start" fill="#000" textLength="21.3" lengthAdjust="spacingAndGlyphs">22.5</text>
<text x="1162.4" y="205" font-family="'Liberation Sans', Arial, sans-serif" font-size="10.2" font-weight="normal" text-anchor="start" fill="#000" textLength="21.3" lengthAdjust="spacingAndGlyphs">20.0</text>
<text x="1162.4" y="229" font-family="'Liberation Sans', Arial, sans-serif" font-size="10.2" font-weight="normal" text-anchor="start" fill="#000" textLength="21.3" lengthAdjust="spacingAndGlyphs">17.5</text>
<text x="1162.4" y="257" font-family="'Liberation Sans', Arial, sans-serif" font-size="10.2" font-weight="normal" text-anchor="start" fill="#000" textLength="21.3" lengthAdjust="spacingAndGlyphs">15.0</text>
<text x="1162.4" y="290" font-family="'Liberation Sans', Arial, sans-serif" font-size="10.2" font-weight="normal" text-anchor="start" fill="#000" textLength="21.3" lengthAdjust="spacingAndGlyphs">12.5</text>
<text x="1162.4" y="331" font-family="'Liberation Sans', Arial, sans-serif" font-size="10.2" font-weight="normal" text-anchor="start" fill="#000" textLength="21.3" lengthAdjust="spacingAndGlyphs">10.0</text>
<text x="1161.9" y="572" font-family="'Liberation Sans', Arial, sans-serif" font-size="10.2" font-weight="normal" text-anchor="start" fill="#000" textLength="15.5" lengthAdjust="spacingAndGlyphs">-40</text>
<text x="1161.9" y="556" font-family="'Liberation Sans', Arial, sans-serif" font-size="10.2" font-weight="normal" text-anchor="start" fill="#000" textLength="15.5" lengthAdjust="spacingAndGlyphs">-30</text>
<text x="1161.9" y="540" font-family="'Liberation Sans', Arial, sans-serif" font-size="10.2" font-weight="normal" text-anchor="start" fill="#000" textLength="15.5" lengthAdjust="spacingAndGlyphs">-20</text>
<text x="1161.9" y="524" font-family="'Liberation Sans', Arial, sans-serif" font-size="10.2" font-weight="normal" text-anchor="start" fill="#000" textLength="15.5" lengthAdjust="spacingAndGlyphs">-10</text>
<text x="1171.5" y="508" font-family="'Liberation Sans', Arial, sans-serif" font-size="10.2" font-weight="normal" text-anchor="start" fill="#000" textLength="6.0" lengthAdjust="spacingAndGlyphs">0</text>
<text x="1165.5" y="492" font-family="'Liberation Sans', Arial, sans-serif" font-size="10.2" font-weight="normal" text-anchor="start" fill="#000" textLength="11.9" lengthAdjust="spacingAndGlyphs">10</text>
<text x="1165.5" y="476" font-family="'Liberation Sans', Arial, sans-serif" font-size="10.2" font-weight="normal" text-anchor="start" fill="#000" textLength="11.9" lengthAdjust="spacingAndGlyphs">20</text>
<text x="1165.5" y="460" font-family="'Liberation Sans', Arial, sans-serif" font-size="10.2" font-weight="normal" text-anchor="start" fill="#000" textLength="11.9" lengthAdjust="spacingAndGlyphs">30</text>
<text x="1165.5" y="444" font-family="'Liberation Sans', Arial, sans-serif" font-size="10.2" font-weight="normal" text-anchor="start" fill="#000" textLength="11.9" lengthAdjust="spacingAndGlyphs">40</text>
<text x="1165.5" y="428" font-family="'Liberation Sans', Arial, sans-serif" font-size="10.2" font-weight="normal" text-anchor="start" fill="#000" textLength="11.9" lengthAdjust="spacingAndGlyphs">50</text>
<text x="1165.5" y="412" font-family="'Liberation Sans', Arial, sans-serif" font-size="10.2" font-weight="normal" text-anchor="start" fill="#000" textLength="11.9" lengthAdjust="spacingAndGlyphs">60</text>
<text x="1165.5" y="396" font-family="'Liberation Sans', Arial, sans-serif" font-size="10.2" font-weight="normal" text-anchor="start" fill="#000" textLength="11.9" lengthAdjust="spacingAndGlyphs">70</text>
<polygon points="1157.5,116 1161.5,110.5 1190.5,110.5 1190.5,121.5 1161.5,121.5" fill="#fff" stroke="#7d8e97" stroke-width="1"/>
<text x="1161.7" y="120" font-family="'Liberation Sans', Arial, sans-serif" font-size="11" font-weight="bold" text-anchor="start" fill="#000" textLength="26.8" lengthAdjust="spacingAndGlyphs">32.08</text>
<polygon points="1157.5,439.5 1161.5,434.5 1190.5,434.5 1190.5,444.5 1161.5,444.5" fill="#fff" stroke="#000" stroke-width="1"/>
<text x="1161.7" y="443" font-family="'Liberation Sans', Arial, sans-serif" font-size="10.2" font-weight="normal" text-anchor="start" fill="#000" textLength="26.6" lengthAdjust="spacingAndGlyphs">40.17</text>
</svg>
</body></html>
